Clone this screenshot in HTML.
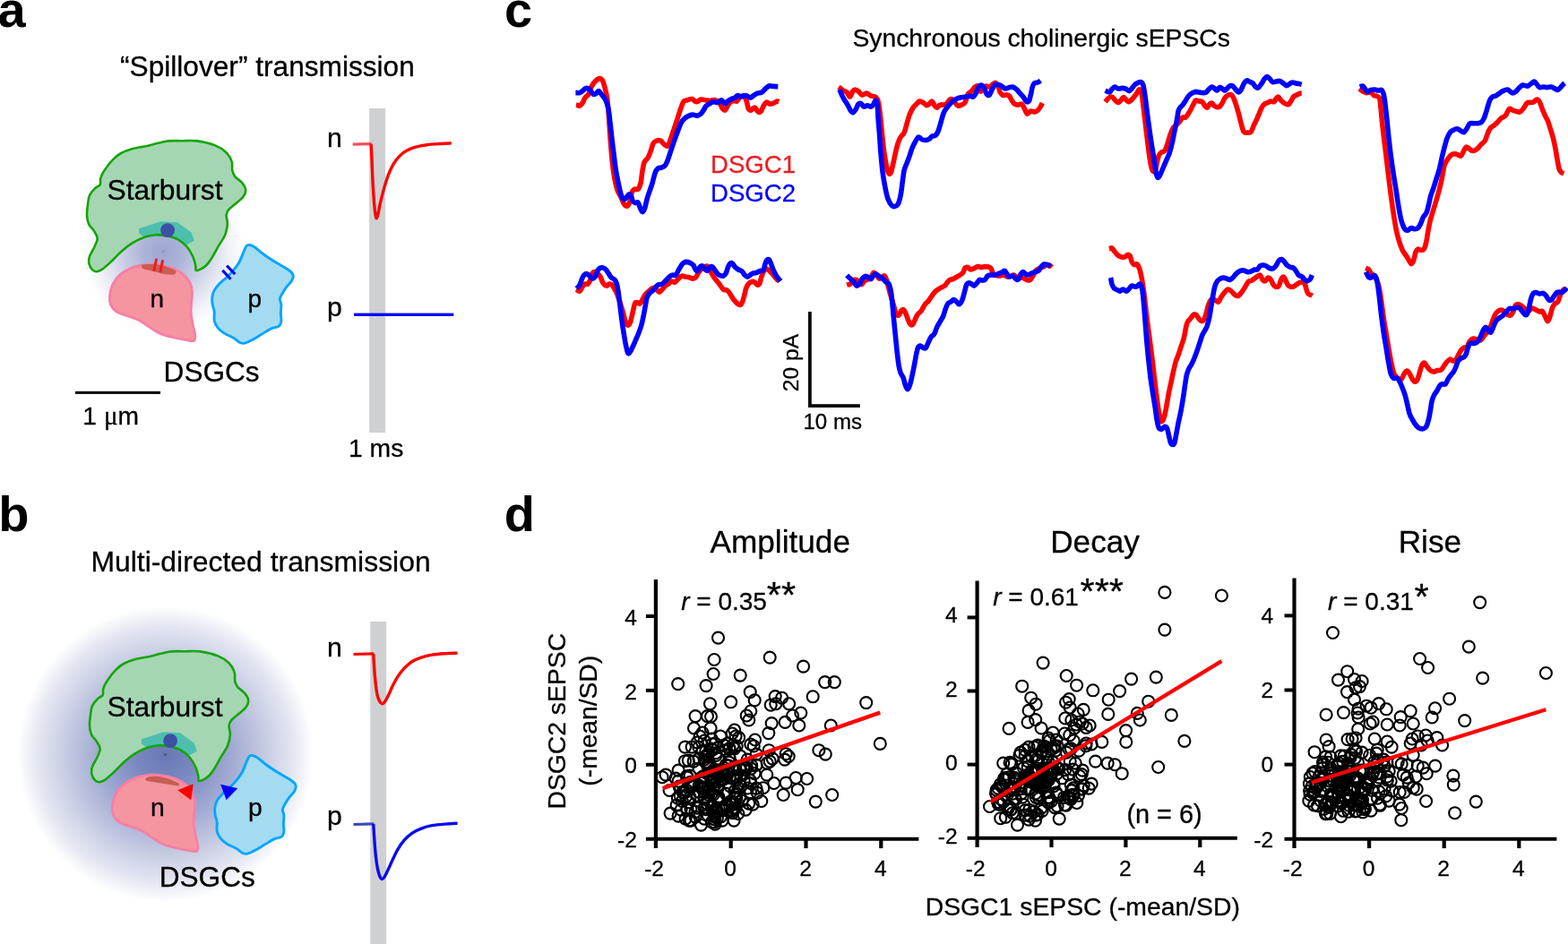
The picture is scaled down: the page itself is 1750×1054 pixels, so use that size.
<!DOCTYPE html>
<html lang="en"><head><meta charset="utf-8"><title>Figure</title>
<style>
html,body{margin:0;padding:0;background:#fff;}
body{width:1750px;height:1054px;overflow:hidden;}
svg{display:block;}
svg text{font-family:"Liberation Sans",sans-serif;stroke-width:0.3px;stroke-linejoin:round;}
</style></head><body>
<svg width="1750" height="1054" viewBox="0 0 1750 1054">
<rect width="1750" height="1054" fill="#fff"/>
<defs>
<radialGradient id="gA" cx="182" cy="281" r="90" gradientUnits="userSpaceOnUse">
<stop offset="0" stop-color="#9ea6d1"/><stop offset="0.25" stop-color="#adb4d8"/><stop offset="0.55" stop-color="#d0d4e8"/><stop offset="0.8" stop-color="#eef0f7"/><stop offset="1" stop-color="#ffffff"/>
</radialGradient>
<radialGradient id="gB" cx="184.6" cy="842.0" r="165" gradientUnits="userSpaceOnUse">
<stop offset="0" stop-color="#6878b6"/><stop offset="0.2" stop-color="#7a88c0"/><stop offset="0.45" stop-color="#a1aad2"/><stop offset="0.7" stop-color="#cacfe5"/><stop offset="0.87" stop-color="#e4e7f2"/><stop offset="1" stop-color="#ffffff"/>
</radialGradient>
</defs>
<text x="-2.6" y="29.9" font-size="56" text-anchor="start" fill="#000" stroke="#000" font-weight="bold" style="stroke-width:0">a</text>
<text x="-1.8" y="593.1" font-size="56" text-anchor="start" fill="#000" stroke="#000" font-weight="bold" style="stroke-width:0">b</text>
<text x="563" y="29.6" font-size="56" text-anchor="start" fill="#000" stroke="#000" font-weight="bold" style="stroke-width:0">c</text>
<text x="562.7" y="593.1" font-size="56" text-anchor="start" fill="#000" stroke="#000" font-weight="bold" style="stroke-width:0">d</text>
<circle cx="182" cy="281" r="90" fill="url(#gA)"/>
<path d="M188.1 157.4C192.8 157 198.8 157.2 204.2 157.2C209.5 157.2 214.2 156.6 220.2 157.4C226.2 158.3 234.9 160.3 240.2 162.4C245.5 164.5 249.1 167.1 252.2 170C255.3 173 257.5 176.7 258.6 180.1C259.8 183.4 258.6 187.2 259.2 190.1C259.8 192.9 260.4 194.7 262.2 197.1C264.1 199.4 268.2 201.6 270.2 204.1C272.2 206.6 274.1 209.4 274.2 212.1C274.4 214.8 273.2 217.4 271.2 220.1C269.2 222.8 264.9 225.8 262.2 228.1C259.6 230.4 256.8 232.1 255.2 234.1C253.6 236.1 252.9 237.5 252.6 240.1C252.4 242.8 254.1 246.5 253.8 250.1C253.6 253.8 252.8 258.1 251.2 262.2C249.6 266.2 246.7 269.8 244.2 274.2C241.7 278.5 238.5 284.5 236.2 288.2C233.9 291.9 232.4 294.1 230.2 296.2C228 298.3 225.1 299.9 223.2 300.8C221.3 301.7 219.6 302.6 218.8 301.8C217.9 301 218.8 298.8 218.2 296.2C217.6 293.6 216.8 289.7 215.2 286.2C213.5 282.7 211 278.3 208.2 275.2C205.3 272 201.5 269.1 198.2 267.2C194.8 265.3 192.2 264.6 188.1 263.8C184.1 262.9 178.5 262 174.1 262.2C169.8 262.3 166.5 263.1 162.1 264.6C157.8 266.1 152.4 268.6 148.1 271.2C143.8 273.8 139.8 277 136.1 280.2C132.4 283.3 129.4 287 126.1 290.2C122.7 293.4 119.1 297 116.1 299.2C113.1 301.4 110.2 302.9 108.1 303.2C105.9 303.5 104.5 302.7 103 301.2C101.6 299.7 99.9 296.7 99.4 294.2C98.9 291.7 99.1 289.2 100 286.2C101 283.2 103.6 279.5 105.1 276.2C106.5 272.8 108.7 269.2 108.7 266.2C108.7 263.2 106.7 260.8 105.1 258.1C103.4 255.5 100.4 253.1 99 250.1C97.7 247.1 97.2 243.8 97 240.1C96.9 236.5 97.5 231.8 98 228.1C98.5 224.4 98.7 221.1 100 218.1C101.4 215.1 104.1 212.1 106.1 210.1C108 208.1 110.6 208.1 111.7 206.1C112.7 204.1 111.4 201.1 112.5 198.1C113.5 195.1 115.8 191.4 118.1 188.1C120.3 184.7 123.2 180.9 126.1 178.1C128.9 175.2 131.4 173 135.1 171C138.8 169 143.3 167.4 148.1 166C152.9 164.7 159.4 164.1 164.1 163C168.8 162 172.1 160.8 176.1 159.8C180.1 158.9 183.5 157.9 188.1 157.4Z" fill="#a5d6b3"/>
<clipPath id="csa"><path d="M188.1 157.4C192.8 157 198.8 157.2 204.2 157.2C209.5 157.2 214.2 156.6 220.2 157.4C226.2 158.3 234.9 160.3 240.2 162.4C245.5 164.5 249.1 167.1 252.2 170C255.3 173 257.5 176.7 258.6 180.1C259.8 183.4 258.6 187.2 259.2 190.1C259.8 192.9 260.4 194.7 262.2 197.1C264.1 199.4 268.2 201.6 270.2 204.1C272.2 206.6 274.1 209.4 274.2 212.1C274.4 214.8 273.2 217.4 271.2 220.1C269.2 222.8 264.9 225.8 262.2 228.1C259.6 230.4 256.8 232.1 255.2 234.1C253.6 236.1 252.9 237.5 252.6 240.1C252.4 242.8 254.1 246.5 253.8 250.1C253.6 253.8 252.8 258.1 251.2 262.2C249.6 266.2 246.7 269.8 244.2 274.2C241.7 278.5 238.5 284.5 236.2 288.2C233.9 291.9 232.4 294.1 230.2 296.2C228 298.3 225.1 299.9 223.2 300.8C221.3 301.7 219.6 302.6 218.8 301.8C217.9 301 218.8 298.8 218.2 296.2C217.6 293.6 216.8 289.7 215.2 286.2C213.5 282.7 211 278.3 208.2 275.2C205.3 272 201.5 269.1 198.2 267.2C194.8 265.3 192.2 264.6 188.1 263.8C184.1 262.9 178.5 262 174.1 262.2C169.8 262.3 166.5 263.1 162.1 264.6C157.8 266.1 152.4 268.6 148.1 271.2C143.8 273.8 139.8 277 136.1 280.2C132.4 283.3 129.4 287 126.1 290.2C122.7 293.4 119.1 297 116.1 299.2C113.1 301.4 110.2 302.9 108.1 303.2C105.9 303.5 104.5 302.7 103 301.2C101.6 299.7 99.9 296.7 99.4 294.2C98.9 291.7 99.1 289.2 100 286.2C101 283.2 103.6 279.5 105.1 276.2C106.5 272.8 108.7 269.2 108.7 266.2C108.7 263.2 106.7 260.8 105.1 258.1C103.4 255.5 100.4 253.1 99 250.1C97.7 247.1 97.2 243.8 97 240.1C96.9 236.5 97.5 231.8 98 228.1C98.5 224.4 98.7 221.1 100 218.1C101.4 215.1 104.1 212.1 106.1 210.1C108 208.1 110.6 208.1 111.7 206.1C112.7 204.1 111.4 201.1 112.5 198.1C113.5 195.1 115.8 191.4 118.1 188.1C120.3 184.7 123.2 180.9 126.1 178.1C128.9 175.2 131.4 173 135.1 171C138.8 169 143.3 167.4 148.1 166C152.9 164.7 159.4 164.1 164.1 163C168.8 162 172.1 160.8 176.1 159.8C180.1 158.9 183.5 157.9 188.1 157.4Z"/></clipPath>
<g clip-path="url(#csa)"><polygon points="155,255.2 179.6,247.2 198,248.2 213.6,259.4 216.8,268.6 209.2,273 200,276 185,272 170,268 159.2,263.6 155,260.6" fill="#4ebfad"/></g>
<path d="M188.1 157.4C192.8 157 198.8 157.2 204.2 157.2C209.5 157.2 214.2 156.6 220.2 157.4C226.2 158.3 234.9 160.3 240.2 162.4C245.5 164.5 249.1 167.1 252.2 170C255.3 173 257.5 176.7 258.6 180.1C259.8 183.4 258.6 187.2 259.2 190.1C259.8 192.9 260.4 194.7 262.2 197.1C264.1 199.4 268.2 201.6 270.2 204.1C272.2 206.6 274.1 209.4 274.2 212.1C274.4 214.8 273.2 217.4 271.2 220.1C269.2 222.8 264.9 225.8 262.2 228.1C259.6 230.4 256.8 232.1 255.2 234.1C253.6 236.1 252.9 237.5 252.6 240.1C252.4 242.8 254.1 246.5 253.8 250.1C253.6 253.8 252.8 258.1 251.2 262.2C249.6 266.2 246.7 269.8 244.2 274.2C241.7 278.5 238.5 284.5 236.2 288.2C233.9 291.9 232.4 294.1 230.2 296.2C228 298.3 225.1 299.9 223.2 300.8C221.3 301.7 219.6 302.6 218.8 301.8C217.9 301 218.8 298.8 218.2 296.2C217.6 293.6 216.8 289.7 215.2 286.2C213.5 282.7 211 278.3 208.2 275.2C205.3 272 201.5 269.1 198.2 267.2C194.8 265.3 192.2 264.6 188.1 263.8C184.1 262.9 178.5 262 174.1 262.2C169.8 262.3 166.5 263.1 162.1 264.6C157.8 266.1 152.4 268.6 148.1 271.2C143.8 273.8 139.8 277 136.1 280.2C132.4 283.3 129.4 287 126.1 290.2C122.7 293.4 119.1 297 116.1 299.2C113.1 301.4 110.2 302.9 108.1 303.2C105.9 303.5 104.5 302.7 103 301.2C101.6 299.7 99.9 296.7 99.4 294.2C98.9 291.7 99.1 289.2 100 286.2C101 283.2 103.6 279.5 105.1 276.2C106.5 272.8 108.7 269.2 108.7 266.2C108.7 263.2 106.7 260.8 105.1 258.1C103.4 255.5 100.4 253.1 99 250.1C97.7 247.1 97.2 243.8 97 240.1C96.9 236.5 97.5 231.8 98 228.1C98.5 224.4 98.7 221.1 100 218.1C101.4 215.1 104.1 212.1 106.1 210.1C108 208.1 110.6 208.1 111.7 206.1C112.7 204.1 111.4 201.1 112.5 198.1C113.5 195.1 115.8 191.4 118.1 188.1C120.3 184.7 123.2 180.9 126.1 178.1C128.9 175.2 131.4 173 135.1 171C138.8 169 143.3 167.4 148.1 166C152.9 164.7 159.4 164.1 164.1 163C168.8 162 172.1 160.8 176.1 159.8C180.1 158.9 183.5 157.9 188.1 157.4Z" fill="none" stroke="#14a505" stroke-width="2.6" stroke-linejoin="round"/>
<circle cx="187.1" cy="257.1" r="7.9" fill="#3c50a5"/>
<path d="M164.1 295.1C160.2 295.3 155.7 296.3 152.5 297.1C149.3 297.8 148.3 298 145.1 299.7C141.9 301.3 136.8 304 133.5 307.1C130.2 310.1 127.3 314.2 125.5 318.1C123.6 321.9 122.8 326.4 122.5 330.1C122.1 333.8 122.3 337.2 123.5 340.1C124.6 343 126.4 345.7 129.3 347.7C132.1 349.7 136.5 350.7 140.7 352.3C144.9 353.9 150 355 154.3 357.1C158.6 359.2 162.4 362.4 166.3 364.9C170.3 367.4 173.8 370.2 178.1 372.1C182.4 374.1 187.1 375.3 192.2 376.5C197.2 377.8 204.1 379.1 208.2 379.7C212.2 380.4 215 381.3 216.6 380.3C218.2 379.4 218 377.2 217.8 374.1C217.5 371.1 215.9 366.1 215.2 362.1C214.4 358.1 213.4 354.5 213.2 350.1C212.9 345.8 213.5 340.1 213.8 336.1C214 332.1 214.8 329.4 214.6 326.1C214.3 322.7 213.6 319.1 212.2 316.1C210.8 313.1 208.5 310.4 206.2 308.1C203.8 305.7 201.2 303.7 198.2 302.1C195.2 300.4 191.8 299.1 188.1 298.1C184.5 297 180.1 296.2 176.1 295.7C172.1 295.2 168.1 294.8 164.1 295.1Z" fill="#f4959f" stroke="#f87fa6" stroke-width="2.8" stroke-linejoin="round"/>
<path d="M278.2 273.4C279.8 273.6 281.6 274.3 284.3 276C286.9 277.8 290.6 281.4 294.3 284C297.9 286.7 302.3 289.5 306.3 292C310.3 294.6 315.1 297.1 318.3 299.1C321.5 301.1 323.8 302.6 325.3 304.1C326.8 305.6 327.3 306.4 327.3 308.1C327.3 309.7 326.6 311.9 325.3 314.1C324 316.2 321.1 318.6 319.3 321.1C317.5 323.6 315.5 326.9 314.3 329.1C313.1 331.3 312.4 332.3 312.3 334.1C312.2 335.9 313.7 337.4 313.9 340.1C314.1 342.8 313.3 347.1 313.3 350.1C313.3 353.1 314.2 355.8 313.9 358.1C313.6 360.5 313.2 362.6 311.3 364.1C309.4 365.6 305.4 365.6 302.3 367.1C299.1 368.6 295.6 371.1 292.3 373.1C288.9 375.1 285.4 377.5 282.3 379.1C279.1 380.8 275.7 382.7 273.2 383.2C270.7 383.7 269.4 383.2 267.2 382.2C265.1 381.1 263.1 378.8 260.2 377.1C257.4 375.5 253.1 374 250.2 372.1C247.4 370.3 245 368.5 243.2 366.1C241.4 363.8 239.9 361.1 239.2 358.1C238.5 355.1 239.5 351.1 239.2 348.1C238.9 345.1 237.6 342.8 237.2 340.1C236.8 337.4 236.5 334.8 236.8 332.1C237.1 329.4 237.8 326.7 239.2 324.1C240.6 321.5 243 318.8 245.2 316.5C247.4 314.1 250.1 312.5 252.6 310.1C255.2 307.6 258.3 304.5 260.6 301.7C263 298.8 265 296.3 266.8 293C268.7 289.8 270.3 285 271.6 282C273 279 273.7 276.5 274.8 275C275.9 273.6 276.7 273.3 278.2 273.4Z" fill="#a4dbf0" stroke="#05a5ff" stroke-width="2.9" stroke-linejoin="round"/>
<path d="M158.6 295.6C160.4 295.1 166.2 295 169 295C171.8 295 172.7 295.2 175.4 295.6C178.1 296 181.6 296.5 185 297.6C188.4 298.7 194 300.9 195.8 302C197.6 303.1 196.2 303.6 196 304.4C195.8 305.2 196.4 306.3 194.6 306.6C192.8 306.9 188.2 306.6 185 306.2C181.8 305.8 178.3 304.7 175.4 304C172.5 303.3 170.1 302.7 167.4 302C164.7 301.3 160.9 300.7 159.4 300C157.9 299.3 158.3 298.7 158.2 298C158.1 297.3 156.8 296.1 158.6 295.6Z" fill="#c75e54"/>
<circle cx="182.4" cy="280.8" r="1" fill="#8e8e9e"/>
<line x1="174.7" y1="288.7" x2="171.7" y2="302.7" stroke="#f01a1e" stroke-width="3"/>
<line x1="181.7" y1="290.3" x2="178.7" y2="304.3" stroke="#f01a1e" stroke-width="3"/>
<line x1="253.1" y1="296.7" x2="262.3" y2="306.1" stroke="#0606f6" stroke-width="3.1"/>
<line x1="248.3" y1="301.9" x2="257.5" y2="311.7" stroke="#0606f6" stroke-width="3.1"/>
<text x="134" y="84.8" font-size="31.65" text-anchor="start" fill="#000" stroke="#000" >“Spillover” transmission</text>
<text x="119.5" y="222.5" font-size="31.8" text-anchor="start" fill="#000" stroke="#000" >Starburst</text>
<text x="167.6" y="342.7" font-size="28" text-anchor="start" fill="#000" stroke="#000" >n</text>
<text x="276.4" y="342.7" font-size="28" text-anchor="start" fill="#000" stroke="#000" >p</text>
<text x="182.6" y="425.8" font-size="31.6" text-anchor="start" fill="#000" stroke="#000" >DSGCs</text>
<rect x="84.1" y="436.9" width="94.9" height="3" fill="#000"/>
<text y="474.3" font-size="28.2" stroke="#000"><tspan x="92.3">1</tspan><tspan x="108"> </tspan><tspan x="116" font-family="Liberation Serif, serif" font-size="29">μ</tspan><tspan x="131.4">m</tspan></text>
<text x="389" y="509.6" font-size="28.3" text-anchor="start" fill="#000" stroke="#000" >1 ms</text>
<rect x="412.1" y="121" width="18" height="362" fill="#cfd0d2"/>
<text x="365" y="164.1" font-size="30.2" text-anchor="start" fill="#000" stroke="#000" >n</text>
<text x="365" y="352.8" font-size="30.2" text-anchor="start" fill="#000" stroke="#000" >p</text>
<path d="M393.7 161.1L414.5 160.7" stroke="#f0505f" stroke-width="3.2" fill="none"/>
<path d="M414.1 160.7C414.3 163.9 414.8 172.8 415.1 180.1C415.4 187.3 415.7 196.1 416.1 204.1C416.5 212.1 417.2 222.1 417.7 228.1C418.2 234.2 418.7 237.6 419.1 240.2C419.5 242.8 419.7 243.8 420.1 243.8C420.5 243.8 421 242.8 421.7 240.2C422.4 237.6 423 232.8 424.1 228.1C425.2 223.5 426.6 217.5 428.1 212.1C429.6 206.8 431.3 200.9 433.1 196.1C434.9 191.3 436.9 186.8 439.1 183.1C441.3 179.4 443.6 176.6 446.1 174.1C448.6 171.6 451.1 169.7 454.1 168.1C457.1 166.4 460.5 165.1 464.1 164.1C467.8 163 471.8 162.3 476.2 161.7C480.5 161.1 485.6 160.8 490.2 160.5C494.8 160.2 501.5 160 503.8 159.9" stroke="#ff0000" stroke-width="3.4" fill="none" stroke-linejoin="round"/>
<rect x="395" y="349.6" width="111.3" height="3.4" fill="#0a0af5"/>
<circle cx="184.6" cy="842.0" r="165" fill="url(#gB)"/>
<path d="M191.1 727.4C195.8 727 201.8 727.2 207.2 727.2C212.5 727.2 217.2 726.6 223.2 727.4C229.2 728.3 237.9 730.3 243.2 732.4C248.5 734.5 252.1 737.1 255.2 740C258.3 743 260.5 746.7 261.6 750.1C262.8 753.4 261.6 757.2 262.2 760.1C262.8 762.9 263.4 764.7 265.2 767.1C267.1 769.4 271.2 771.6 273.2 774.1C275.2 776.6 277.1 779.4 277.2 782.1C277.4 784.8 276.2 787.4 274.2 790.1C272.2 792.8 267.9 795.8 265.2 798.1C262.6 800.4 259.8 802.1 258.2 804.1C256.6 806.1 255.9 807.5 255.6 810.1C255.4 812.8 257.1 816.5 256.8 820.1C256.6 823.8 255.8 828.1 254.2 832.2C252.6 836.2 249.7 839.8 247.2 844.2C244.7 848.5 241.5 854.5 239.2 858.2C236.9 861.9 235.4 864.1 233.2 866.2C231 868.3 228.1 869.9 226.2 870.8C224.3 871.7 222.6 872.6 221.8 871.8C220.9 871 221.8 868.8 221.2 866.2C220.6 863.6 219.8 859.7 218.2 856.2C216.5 852.7 214 848.3 211.2 845.2C208.3 842 204.5 839.1 201.2 837.2C197.8 835.3 195.2 834.6 191.1 833.8C187.1 832.9 181.5 832 177.1 832.2C172.8 832.3 169.5 833.1 165.1 834.6C160.8 836.1 155.4 838.6 151.1 841.2C146.8 843.8 142.8 847 139.1 850.2C135.4 853.3 132.4 857 129.1 860.2C125.7 863.4 122.1 867 119.1 869.2C116.1 871.4 113.2 872.9 111.1 873.2C108.9 873.5 107.5 872.7 106 871.2C104.6 869.7 102.9 866.7 102.4 864.2C101.9 861.7 102.1 859.2 103 856.2C104 853.2 106.6 849.5 108.1 846.2C109.5 842.8 111.7 839.2 111.7 836.2C111.7 833.2 109.7 830.8 108.1 828.1C106.4 825.5 103.4 823.1 102 820.1C100.7 817.1 100.2 813.8 100 810.1C99.9 806.5 100.5 801.8 101 798.1C101.5 794.4 101.7 791.1 103 788.1C104.4 785.1 107.1 782.1 109.1 780.1C111 778.1 113.6 778.1 114.7 776.1C115.7 774.1 114.4 771.1 115.5 768.1C116.5 765.1 118.8 761.4 121.1 758.1C123.3 754.7 126.2 750.9 129.1 748.1C131.9 745.2 134.4 743 138.1 741C141.8 739 146.3 737.4 151.1 736C155.9 734.7 162.4 734.1 167.1 733C171.8 732 175.1 730.8 179.1 729.8C183.1 728.9 186.5 727.9 191.1 727.4Z" fill="#a5d6b3"/>
<clipPath id="csb"><path d="M191.1 727.4C195.8 727 201.8 727.2 207.2 727.2C212.5 727.2 217.2 726.6 223.2 727.4C229.2 728.3 237.9 730.3 243.2 732.4C248.5 734.5 252.1 737.1 255.2 740C258.3 743 260.5 746.7 261.6 750.1C262.8 753.4 261.6 757.2 262.2 760.1C262.8 762.9 263.4 764.7 265.2 767.1C267.1 769.4 271.2 771.6 273.2 774.1C275.2 776.6 277.1 779.4 277.2 782.1C277.4 784.8 276.2 787.4 274.2 790.1C272.2 792.8 267.9 795.8 265.2 798.1C262.6 800.4 259.8 802.1 258.2 804.1C256.6 806.1 255.9 807.5 255.6 810.1C255.4 812.8 257.1 816.5 256.8 820.1C256.6 823.8 255.8 828.1 254.2 832.2C252.6 836.2 249.7 839.8 247.2 844.2C244.7 848.5 241.5 854.5 239.2 858.2C236.9 861.9 235.4 864.1 233.2 866.2C231 868.3 228.1 869.9 226.2 870.8C224.3 871.7 222.6 872.6 221.8 871.8C220.9 871 221.8 868.8 221.2 866.2C220.6 863.6 219.8 859.7 218.2 856.2C216.5 852.7 214 848.3 211.2 845.2C208.3 842 204.5 839.1 201.2 837.2C197.8 835.3 195.2 834.6 191.1 833.8C187.1 832.9 181.5 832 177.1 832.2C172.8 832.3 169.5 833.1 165.1 834.6C160.8 836.1 155.4 838.6 151.1 841.2C146.8 843.8 142.8 847 139.1 850.2C135.4 853.3 132.4 857 129.1 860.2C125.7 863.4 122.1 867 119.1 869.2C116.1 871.4 113.2 872.9 111.1 873.2C108.9 873.5 107.5 872.7 106 871.2C104.6 869.7 102.9 866.7 102.4 864.2C101.9 861.7 102.1 859.2 103 856.2C104 853.2 106.6 849.5 108.1 846.2C109.5 842.8 111.7 839.2 111.7 836.2C111.7 833.2 109.7 830.8 108.1 828.1C106.4 825.5 103.4 823.1 102 820.1C100.7 817.1 100.2 813.8 100 810.1C99.9 806.5 100.5 801.8 101 798.1C101.5 794.4 101.7 791.1 103 788.1C104.4 785.1 107.1 782.1 109.1 780.1C111 778.1 113.6 778.1 114.7 776.1C115.7 774.1 114.4 771.1 115.5 768.1C116.5 765.1 118.8 761.4 121.1 758.1C123.3 754.7 126.2 750.9 129.1 748.1C131.9 745.2 134.4 743 138.1 741C141.8 739 146.3 737.4 151.1 736C155.9 734.7 162.4 734.1 167.1 733C171.8 732 175.1 730.8 179.1 729.8C183.1 728.9 186.5 727.9 191.1 727.4Z"/></clipPath>
<g clip-path="url(#csb)"><polygon points="158,825.2 182.6,817.2 201,818.2 216.6,829.4 219.8,838.6 212.2,843 203,846 188,842 173,838 162.2,833.6 158,830.6" fill="#4ebfad"/></g>
<path d="M191.1 727.4C195.8 727 201.8 727.2 207.2 727.2C212.5 727.2 217.2 726.6 223.2 727.4C229.2 728.3 237.9 730.3 243.2 732.4C248.5 734.5 252.1 737.1 255.2 740C258.3 743 260.5 746.7 261.6 750.1C262.8 753.4 261.6 757.2 262.2 760.1C262.8 762.9 263.4 764.7 265.2 767.1C267.1 769.4 271.2 771.6 273.2 774.1C275.2 776.6 277.1 779.4 277.2 782.1C277.4 784.8 276.2 787.4 274.2 790.1C272.2 792.8 267.9 795.8 265.2 798.1C262.6 800.4 259.8 802.1 258.2 804.1C256.6 806.1 255.9 807.5 255.6 810.1C255.4 812.8 257.1 816.5 256.8 820.1C256.6 823.8 255.8 828.1 254.2 832.2C252.6 836.2 249.7 839.8 247.2 844.2C244.7 848.5 241.5 854.5 239.2 858.2C236.9 861.9 235.4 864.1 233.2 866.2C231 868.3 228.1 869.9 226.2 870.8C224.3 871.7 222.6 872.6 221.8 871.8C220.9 871 221.8 868.8 221.2 866.2C220.6 863.6 219.8 859.7 218.2 856.2C216.5 852.7 214 848.3 211.2 845.2C208.3 842 204.5 839.1 201.2 837.2C197.8 835.3 195.2 834.6 191.1 833.8C187.1 832.9 181.5 832 177.1 832.2C172.8 832.3 169.5 833.1 165.1 834.6C160.8 836.1 155.4 838.6 151.1 841.2C146.8 843.8 142.8 847 139.1 850.2C135.4 853.3 132.4 857 129.1 860.2C125.7 863.4 122.1 867 119.1 869.2C116.1 871.4 113.2 872.9 111.1 873.2C108.9 873.5 107.5 872.7 106 871.2C104.6 869.7 102.9 866.7 102.4 864.2C101.9 861.7 102.1 859.2 103 856.2C104 853.2 106.6 849.5 108.1 846.2C109.5 842.8 111.7 839.2 111.7 836.2C111.7 833.2 109.7 830.8 108.1 828.1C106.4 825.5 103.4 823.1 102 820.1C100.7 817.1 100.2 813.8 100 810.1C99.9 806.5 100.5 801.8 101 798.1C101.5 794.4 101.7 791.1 103 788.1C104.4 785.1 107.1 782.1 109.1 780.1C111 778.1 113.6 778.1 114.7 776.1C115.7 774.1 114.4 771.1 115.5 768.1C116.5 765.1 118.8 761.4 121.1 758.1C123.3 754.7 126.2 750.9 129.1 748.1C131.9 745.2 134.4 743 138.1 741C141.8 739 146.3 737.4 151.1 736C155.9 734.7 162.4 734.1 167.1 733C171.8 732 175.1 730.8 179.1 729.8C183.1 728.9 186.5 727.9 191.1 727.4Z" fill="none" stroke="#14a505" stroke-width="2.6" stroke-linejoin="round"/>
<circle cx="190.1" cy="827.1" r="7.9" fill="#3c50a5"/>
<path d="M167.1 865.1C163.2 865.3 158.7 866.3 155.5 867.1C152.3 867.8 151.3 868 148.1 869.7C144.9 871.3 139.8 874 136.5 877.1C133.2 880.1 130.3 884.2 128.5 888.1C126.6 891.9 125.8 896.4 125.5 900.1C125.1 903.8 125.3 907.2 126.5 910.1C127.6 913 129.4 915.7 132.3 917.7C135.1 919.7 139.5 920.7 143.7 922.3C147.9 923.9 153 925 157.3 927.1C161.6 929.2 165.4 932.4 169.3 934.9C173.3 937.4 176.8 940.2 181.1 942.1C185.4 944.1 190.1 945.3 195.2 946.5C200.2 947.8 207.1 949.1 211.2 949.7C215.2 950.4 218 951.3 219.6 950.3C221.2 949.4 221 947.2 220.8 944.1C220.5 941.1 218.9 936.1 218.2 932.1C217.4 928.1 216.4 924.5 216.2 920.1C215.9 915.8 216.5 910.1 216.8 906.1C217 902.1 217.8 899.4 217.6 896.1C217.3 892.7 216.6 889.1 215.2 886.1C213.8 883.1 211.5 880.4 209.2 878.1C206.8 875.7 204.2 873.7 201.2 872.1C198.2 870.4 194.8 869.1 191.1 868.1C187.5 867 183.1 866.2 179.1 865.7C175.1 865.2 171.1 864.8 167.1 865.1Z" fill="#f4959f" stroke="#f87fa6" stroke-width="2.8" stroke-linejoin="round"/>
<path d="M281.2 843.4C282.8 843.6 284.6 844.3 287.3 846C289.9 847.8 293.6 851.4 297.3 854C300.9 856.7 305.3 859.5 309.3 862C313.3 864.6 318.1 867.1 321.3 869.1C324.5 871.1 326.8 872.6 328.3 874.1C329.8 875.6 330.3 876.4 330.3 878.1C330.3 879.7 329.6 881.9 328.3 884.1C327 886.2 324.1 888.6 322.3 891.1C320.5 893.6 318.5 896.9 317.3 899.1C316.1 901.3 315.4 902.3 315.3 904.1C315.2 905.9 316.7 907.4 316.9 910.1C317.1 912.8 316.3 917.1 316.3 920.1C316.3 923.1 317.2 925.8 316.9 928.1C316.6 930.5 316.2 932.6 314.3 934.1C312.4 935.6 308.4 935.6 305.3 937.1C302.1 938.6 298.6 941.1 295.3 943.1C291.9 945.1 288.4 947.5 285.3 949.1C282.1 950.8 278.7 952.7 276.2 953.2C273.7 953.7 272.4 953.2 270.2 952.2C268.1 951.1 266.1 948.8 263.2 947.1C260.4 945.5 256.1 944 253.2 942.1C250.4 940.3 248 938.5 246.2 936.1C244.4 933.8 242.9 931.1 242.2 928.1C241.5 925.1 242.5 921.1 242.2 918.1C241.9 915.1 240.6 912.8 240.2 910.1C239.8 907.4 239.5 904.8 239.8 902.1C240.1 899.4 240.8 896.7 242.2 894.1C243.6 891.5 246 888.8 248.2 886.5C250.4 884.1 253.1 882.5 255.6 880.1C258.2 877.6 261.3 874.5 263.6 871.7C266 868.8 268 866.3 269.8 863C271.7 859.8 273.3 855 274.6 852C276 849 276.7 846.5 277.8 845C278.9 843.6 279.7 843.3 281.2 843.4Z" fill="#a4dbf0" stroke="#05a5ff" stroke-width="2.9" stroke-linejoin="round"/>
<circle cx="184.5" cy="842.4" r="1.7" fill="#565a78"/>
<path d="M162.3 869.3C165.5 865.5 182 864.6 199.5 874.5C200.4 876 199.8 877.4 198.6 877.5L164.6 872C162.6 871.6 161.8 870.4 162.3 869.3Z" fill="#c55d50"/>
<polygon points="198.2,882.2 215.8,875.2 213.2,893.2" fill="#ff0000"/>
<polygon points="246.2,875.8 265.2,880.2 252.6,893.2" fill="#0000ff"/>
<text x="101.4" y="637.7" font-size="31.9" text-anchor="start" fill="#000" stroke="#000" >Multi-directed transmission</text>
<text x="119.5" y="800.1" font-size="31.8" text-anchor="start" fill="#000" stroke="#000" >Starburst</text>
<text x="168" y="911.1" font-size="28.3" text-anchor="start" fill="#000" stroke="#000" >n</text>
<text x="277" y="911.1" font-size="28.3" text-anchor="start" fill="#000" stroke="#000" >p</text>
<text x="177.7" y="990.2" font-size="31.6" text-anchor="start" fill="#000" stroke="#000" >DSGCs</text>
<rect x="413.3" y="694" width="17.8" height="360" fill="#cfd0d2"/>
<text x="365" y="732.5" font-size="30.2" text-anchor="start" fill="#000" stroke="#000" >n</text>
<text x="365" y="921" font-size="30.2" text-anchor="start" fill="#000" stroke="#000" >p</text>
<path d="M394.5 730.5L417.1 729.9" stroke="#ff0000" stroke-width="3.2" fill="none"/>
<path d="M416.7 729.9C416.9 732.6 417.3 740.7 417.7 746.1C418.1 751.5 418.5 757.1 419.1 762.1C419.7 767.1 420.3 772.6 421.1 776.1C421.9 779.6 422.8 781.5 423.7 783.1C424.6 784.7 425.6 785.6 426.5 785.7C427.4 785.9 428 785.6 429.1 784.1C430.2 782.7 431.6 780.1 433.1 777.1C434.6 774.1 436.3 769.8 438.1 766.1C439.9 762.4 441.9 758.4 444.1 755.1C446.3 751.8 448.5 748.9 451.1 746.1C453.8 743.3 457 740.5 460.1 738.5C463.3 736.5 466.5 735.3 470.1 734.1C473.8 732.8 477.8 731.8 482.2 731.1C486.5 730.3 491.4 730 496.2 729.7C500.9 729.3 508.2 729.2 510.6 729.1" stroke="#ff0000" stroke-width="3.4" fill="none" stroke-linejoin="round"/>
<path d="M394.5 920.5L417.1 919.9" stroke="#3a4cb0" stroke-width="3.2" fill="none"/>
<path d="M416.7 919.9C416.9 922.4 417.3 929.6 417.7 935.1C418.1 940.6 418.5 947.6 419.1 953.1C419.7 958.6 420.3 964 421.1 968.1C421.9 972.3 422.8 975.9 423.7 978.2C424.6 980.4 425.6 981.4 426.5 981.6C427.4 981.7 428 980.9 429.1 979.2C430.2 977.4 431.6 974.3 433.1 971.1C434.6 968 436.3 964 438.1 960.1C439.9 956.3 441.9 951.8 444.1 948.1C446.3 944.4 448.5 941.1 451.1 938.1C453.8 935.1 457 932.3 460.1 930.1C463.3 927.9 466.5 926.5 470.1 925.1C473.8 923.7 477.8 922.5 482.2 921.7C486.5 920.9 491.4 920.5 496.2 920.1C500.9 919.7 508.2 919.4 510.6 919.3" stroke="#0a0af0" stroke-width="3.4" fill="none" stroke-linejoin="round"/>
<text x="951.4" y="52.4" font-size="28.3" text-anchor="start" fill="#000" stroke="#000" >Synchronous cholinergic sEPSCs</text>
<path d="M643 117.1C643.7 117.2 645.9 118.4 647 118.1C648.2 117.7 649 116.6 650 115.1C651 113.6 651.9 110.7 653 109.1C654.2 107.4 655.9 107.1 657 105.1C658.2 103 658.9 99.4 660 97C661.2 94.7 662.5 92.6 664.1 91C665.6 89.5 667.7 87.8 669.1 87.6C670.5 87.5 671.5 88.3 672.5 90C673.5 91.8 674.2 94.7 675.1 98C675.9 101.4 676.9 104.7 677.7 110.1C678.4 115.4 678.9 122.7 679.5 130.1C680 137.4 680.5 146.1 681.1 154.1C681.7 162.1 682.3 170.8 683.1 178.1C683.8 185.5 684.7 192.5 685.7 198.2C686.7 203.8 687.8 208.5 689.1 212.2C690.3 215.8 691.9 217.7 693.1 220.2C694.3 222.7 695 225.5 696.1 227.2C697.2 228.9 698.6 230.4 699.7 230.2C700.8 230 701.6 228.7 702.5 226.2C703.4 223.7 704.2 217.7 705.1 215.2C706 212.7 706.9 211.8 708.1 211.2C709.3 210.5 710.9 212.3 712.1 211.2C713.3 210 714.3 207.7 715.1 204.2C715.9 200.7 716.4 194 717.1 190.1C717.8 186.3 718.1 183.5 719.1 181.1C720.1 178.8 721.9 178.1 723.1 176.1C724.3 174.1 725.1 171.8 726.1 169.1C727.1 166.5 728 162.1 729.1 160.1C730.3 158.1 731.8 157.6 733.1 157.1C734.5 156.6 735.8 156.4 737.1 157.1C738.5 157.8 739.8 160.1 741.1 161.1C742.5 162.1 744 164 745.1 163.1C746.3 162.3 747 159.3 748.1 156.1C749.3 152.9 750.8 148.1 752.2 144.1C753.5 140.1 754.8 136.1 756.2 132.1C757.5 128.1 759 123.2 760.2 120.1C761.3 116.9 762 114.5 763.2 113.1C764.3 111.7 765.7 112.1 767.2 111.7C768.7 111.2 770.5 110.1 772.2 110.5C773.8 110.8 775.5 113.6 777.2 113.7C778.8 113.8 780.5 111.4 782.2 111.1C783.9 110.7 785.5 111.4 787.2 111.7C788.9 111.9 790.4 112.5 792.2 112.5C794 112.5 796.4 111.2 798.2 111.7C800 112.1 801.9 113.5 803.2 115.1C804.5 116.6 805.2 119.7 806.2 121.1C807.2 122.4 808.2 123.6 809.2 123.1C810.2 122.6 811.2 119.6 812.2 118.1C813.2 116.6 814.1 115 815.2 114.1C816.4 113.1 818.1 112.6 819.2 112.5C820.4 112.3 821.1 113.8 822.2 113.1C823.4 112.3 824.9 109.1 826.2 108.1C827.6 107.1 829.1 106.2 830.2 107.1C831.4 107.9 832.4 110.7 833.2 113.1C834.1 115.4 834.4 119.4 835.2 121.1C836.1 122.7 837.1 123.2 838.2 123.1C839.4 122.9 840.9 119.7 842.3 120.1C843.6 120.4 845.1 124.4 846.3 125.1C847.4 125.7 848.3 125.2 849.3 124.1C850.3 122.9 851.3 119.7 852.3 118.1C853.3 116.4 854.1 114.4 855.3 114.1C856.4 113.7 857.9 115.9 859.3 116.1C860.6 116.2 861.9 115.6 863.3 115.1C864.6 114.6 866.3 113.3 867.3 113.1C868.3 112.8 869 113.6 869.3 113.7" stroke="#ff0000" stroke-width="5.6" fill="none" stroke-linejoin="round" stroke-linecap="butt"/>
<path d="M642.4 103.6C643.2 103.6 645.8 104 647 103.6C648.3 103.3 648.9 102.5 650 101.6C651.2 100.8 652.7 98.7 654 98.4C655.4 98.2 656.7 98.9 658 100C659.4 101.1 660.9 104.3 662 105.1C663.2 105.8 664.1 105 665.1 104.5C666.1 103.9 667.1 101.5 668.1 101.6C669.1 101.7 669.7 103.3 671.1 105.1C672.4 106.8 674.7 109.2 676.1 112.1C677.4 114.9 678.2 117.7 679.1 122.1C679.9 126.4 680.4 132.4 681.1 138.1C681.7 143.8 682.4 150.4 683.1 156.1C683.7 161.8 684.4 166.8 685.1 172.1C685.7 177.5 686.2 182.8 687.1 188.1C687.9 193.5 689.1 199.3 690.1 204.2C691.1 209 692.1 214.1 693.1 217.2C694 220.2 694.8 221.9 695.7 222.6C696.6 223.3 697.5 222.1 698.5 221.2C699.5 220.3 700.8 217.7 701.7 217.2C702.6 216.7 703.4 217 704.1 218.2C704.8 219.3 705.3 222.8 706.1 224.2C706.9 225.6 708.1 226.3 709.1 226.6C710.1 226.9 711.2 225.3 712.1 226.2C713 227.1 713.7 230.5 714.5 232.2C715.3 233.9 716.2 236.6 717.1 236.6C718 236.6 718.9 234.6 719.7 232.2C720.5 229.8 721.2 225.4 722.1 222.2C723 219 724.1 216.2 725.1 213.2C726.1 210.2 727.1 207.5 728.1 204.2C729.1 200.8 730.1 195.8 731.1 193.2C732.1 190.5 733 189.1 734.1 188.1C735.3 187.1 736.8 187.6 738.1 187.1C739.5 186.6 741 186.5 742.1 185.1C743.3 183.8 744.1 181.6 745.1 179.1C746.1 176.6 747 173.6 748.1 170.1C749.3 166.6 750.8 161.9 752.2 158.1C753.5 154.3 754.8 150.6 756.2 147.1C757.5 143.6 758.8 139.6 760.2 137.1C761.5 134.6 762.7 133.4 764.2 132.1C765.7 130.7 767.7 129.7 769.2 129.1C770.7 128.4 771.7 128.1 773.2 128.1C774.7 128.1 776.7 129.2 778.2 129.1C779.7 128.9 781 128.1 782.2 127.1C783.4 126.1 784.2 124.6 785.2 123.1C786.2 121.6 787 119.3 788.2 118.1C789.4 116.8 790.9 116.4 792.2 115.7C793.5 114.9 794.7 113.9 796.2 113.7C797.7 113.5 799.7 114.8 801.2 114.5C802.7 114.1 803.9 111.5 805.2 111.7C806.5 111.9 808 115.4 809.2 115.7C810.4 115.9 811.1 113.9 812.2 113.1C813.4 112.2 814.9 111.1 816.2 110.5C817.6 109.8 819.1 109.7 820.2 109.1C821.4 108.4 822.1 106.6 823.2 106.5C824.4 106.3 825.7 108.1 827.2 108.1C828.7 108.1 830.6 106.3 832.2 106.5C833.9 106.6 835.7 109.1 837.2 109.1C838.8 109.1 839.9 107.3 841.3 106.5C842.6 105.6 843.8 104.6 845.3 104.1C846.8 103.5 848.8 103.9 850.3 103C851.8 102.2 852.9 100.2 854.3 99C855.6 97.9 856.8 96.5 858.3 96C859.8 95.6 861.6 96.3 863.3 96.4C864.9 96.5 867.4 96.6 868.3 96.6" stroke="#0000ff" stroke-width="5.6" fill="none" stroke-linejoin="round" stroke-linecap="butt"/>
<path d="M936 97C936.9 97.7 939.5 100 941 101C942.5 102 943.8 101.9 945.1 103C946.3 104.2 947.4 108.2 948.5 108.1C949.6 107.9 950.7 103.4 951.7 102C952.7 100.7 953.4 100 954.5 100C955.5 100 956.8 101 958.1 102C959.3 103 960.6 105.7 962.1 106.1C963.6 106.4 965.4 103.9 967.1 104.1C968.7 104.2 970.4 106.4 972.1 107.1C973.8 107.7 975.8 107.1 977.1 108.1C978.4 109.1 979.3 110.1 980.1 113.1C980.9 116.1 981.4 120.6 982.1 126.1C982.8 131.6 983.4 139.1 984.1 146.1C984.8 153.1 985.7 161.8 986.5 168.1C987.3 174.5 988.2 180 989.1 184.1C990 188.3 990.9 191.7 991.7 193.2C992.5 194.7 993.3 194.7 994.1 193.2C994.9 191.7 995.7 187.6 996.5 184.1C997.3 180.6 998.2 176.1 999.1 172.1C1000 168.1 1001.1 163.3 1002.1 160.1C1003.1 156.9 1004 155.1 1005.1 153.1C1006.3 151.1 1008 150.6 1009.1 148.1C1010.3 145.6 1011.1 141.4 1012.1 138.1C1013.1 134.8 1014 131.1 1015.1 128.1C1016.3 125.1 1017.8 122.1 1019.1 120.1C1020.5 118.1 1022 117.2 1023.1 116.1C1024.3 114.9 1025 113.3 1026.1 113.1C1027.3 112.8 1028.8 113.7 1030.1 114.5C1031.5 115.2 1033 117.4 1034.2 117.7C1035.3 117.9 1036.2 116.8 1037.2 116.1C1038.2 115.3 1039.2 112.7 1040.2 113.1C1041.2 113.4 1042.2 116.9 1043.2 118.1C1044.1 119.2 1044.8 120.2 1045.8 120.1C1046.8 119.9 1048.1 117.6 1049.2 117.1C1050.2 116.6 1051 117.2 1052.2 117.1C1053.3 116.9 1054.8 117.1 1056.2 116.1C1057.5 115.1 1059 111.9 1060.2 111.1C1061.4 110.2 1062.2 110.4 1063.2 111.1C1064.2 111.7 1065.2 113.9 1066.2 115.1C1067.2 116.2 1068 117.7 1069.2 118.1C1070.4 118.4 1071.9 117.7 1073.2 117.1C1074.5 116.4 1076 116.1 1077.2 114.1C1078.4 112.1 1079 107.1 1080.2 105.1C1081.4 103 1082.9 103.4 1084.2 102C1085.5 100.7 1087 98 1088.2 97C1089.4 96 1090.2 95.2 1091.2 96C1092.2 96.9 1093.2 101.4 1094.2 102C1095.2 102.7 1096.2 101 1097.2 100C1098.2 99 1099.1 96.5 1100.2 96C1101.4 95.5 1102.9 97.4 1104.2 97C1105.6 96.7 1107.1 94.8 1108.2 94C1109.4 93.3 1110.2 91.9 1111.2 92.4C1112.2 92.9 1113.4 95.3 1114.2 97C1115.1 98.8 1115.4 101.5 1116.2 103C1117.1 104.6 1118.1 106 1119.3 106.5C1120.4 106.9 1122.1 105.6 1123.3 105.7C1124.4 105.8 1125.3 106 1126.3 107.1C1127.3 108.1 1128.3 110.6 1129.3 112.1C1130.3 113.6 1131.1 115.2 1132.3 116.1C1133.4 116.9 1134.9 117.1 1136.3 117.1C1137.6 117.1 1139.1 115.4 1140.3 116.1C1141.4 116.7 1142.3 119.2 1143.3 121.1C1144.3 122.9 1145.1 126.6 1146.3 127.1C1147.4 127.6 1149 124.4 1150.3 124.1C1151.6 123.7 1153 125.2 1154.3 125.1C1155.6 124.9 1157.1 124.1 1158.3 123.1C1159.5 122.1 1160.5 120.4 1161.3 119.1C1162.1 117.7 1163 115.7 1163.3 115.1" stroke="#ff0000" stroke-width="5.6" fill="none" stroke-linejoin="round" stroke-linecap="butt"/>
<path d="M937 100C937.5 101.2 939 105 940 107.1C941 109.1 942 110.8 943 112.5C944.1 114.1 945.1 115.3 946.1 117.1C947.1 118.8 948.1 121.6 949.1 123.1C950.1 124.5 951.1 125.8 952.1 125.7C953.1 125.5 954.1 123.7 955.1 122.1C956.1 120.5 957.1 117.1 958.1 116.1C959.1 115 960.1 115.2 961.1 115.7C962.1 116.2 962.9 118.7 964.1 119.1C965.2 119.4 966.7 117.7 968.1 117.7C969.4 117.7 970.9 119.3 972.1 119.1C973.3 118.8 974.3 117.2 975.1 116.1C975.9 114.9 976.4 112.1 977.1 112.1C977.8 112.1 978.6 112.7 979.1 116.1C979.6 119.4 979.7 126.1 980.1 132.1C980.5 138.1 981.2 145.4 981.7 152.1C982.2 158.8 982.5 165.5 983.1 172.1C983.7 178.8 984.3 185.8 985.1 192.2C985.9 198.5 987.1 205.2 988.1 210.2C989.1 215.2 989.9 219 991.1 222.2C992.3 225.4 993.9 227.8 995.1 229.2C996.3 230.6 996.9 230.8 998.1 230.6C999.3 230.4 1000.9 230.3 1002.1 228.2C1003.3 226.1 1004.3 222.2 1005.1 218.2C1006 214.2 1006.5 208.8 1007.1 204.2C1007.8 199.5 1008.3 193.8 1009.1 190.1C1010 186.5 1011.1 184.8 1012.1 182.1C1013.1 179.5 1014.1 177 1015.1 174.1C1016.1 171.3 1017 168 1018.1 165.1C1019.3 162.3 1021 159.1 1022.1 157.1C1023.3 155.1 1024 153.3 1025.1 153.1C1026.3 152.9 1027.8 155.1 1029.1 155.7C1030.5 156.3 1031.8 156.6 1033.2 156.5C1034.5 156.4 1036 155.8 1037.2 155.1C1038.3 154.4 1039 152.8 1040.2 152.1C1041.3 151.4 1043 152.1 1044.2 151.1C1045.3 150.1 1046.2 148.6 1047.2 146.1C1048.2 143.6 1049.2 139.4 1050.2 136.1C1051.2 132.7 1052.2 128.6 1053.2 126.1C1054.2 123.6 1055 122.7 1056.2 121.1C1057.3 119.4 1058.8 117.5 1060.2 116.1C1061.5 114.6 1062.7 113.5 1064.2 112.5C1065.7 111.4 1067.5 110.3 1069.2 109.7C1070.9 109 1072.7 108.7 1074.2 108.5C1075.7 108.2 1076.9 108.3 1078.2 108.1C1079.5 107.8 1080.9 107.1 1082.2 107.1C1083.5 107.1 1085 108.6 1086.2 108.1C1087.4 107.6 1088.2 105.9 1089.2 104.1C1090.2 102.2 1091.2 98.5 1092.2 97C1093.2 95.5 1094.2 94.9 1095.2 95C1096.2 95.2 1097.2 96.4 1098.2 98C1099.2 99.7 1100.2 103.7 1101.2 105.1C1102.2 106.4 1103.2 106.9 1104.2 106.1C1105.2 105.2 1106.2 101.9 1107.2 100C1108.2 98.2 1109.1 96 1110.2 95C1111.4 94.1 1112.9 94.2 1114.2 94.4C1115.6 94.7 1116.9 95.7 1118.2 96.4C1119.6 97.2 1120.9 98.8 1122.3 99C1123.6 99.2 1124.9 98 1126.3 97.6C1127.6 97.3 1128.9 96.7 1130.3 97C1131.6 97.4 1132.9 98.5 1134.3 99.6C1135.6 100.8 1136.9 102.6 1138.3 104.1C1139.6 105.5 1141.1 107 1142.3 108.5C1143.4 110 1144.3 112.3 1145.3 113.1C1146.3 113.8 1147.4 114.2 1148.3 113.1C1149.1 111.9 1149.6 108.7 1150.3 106.1C1151 103.4 1151.6 99.2 1152.3 97C1153 94.9 1153.3 93.9 1154.3 93C1155.3 92.2 1157.1 92.5 1158.3 92C1159.5 91.5 1160.8 90.4 1161.3 90" stroke="#0000ff" stroke-width="5.6" fill="none" stroke-linejoin="round" stroke-linecap="butt"/>
<path d="M1233.6 113.7C1234.2 113 1235.8 110.6 1237 109.7C1238.3 108.7 1239.7 107.6 1241 108.1C1242.4 108.5 1243.9 111.4 1245.1 112.5C1246.2 113.5 1247.1 114.6 1248.1 114.5C1249.1 114.3 1250.1 112.7 1251.1 111.7C1252.1 110.7 1253.1 108.5 1254.1 108.5C1255.1 108.5 1256.1 110.8 1257.1 111.7C1258.1 112.5 1258.9 113.9 1260.1 113.7C1261.2 113.4 1262.7 111.5 1264.1 110.1C1265.4 108.6 1266.9 106.7 1268.1 105.1C1269.2 103.4 1270.1 100.4 1271.1 100C1272 99.7 1272.9 100.4 1273.7 103C1274.5 105.7 1275 110.6 1275.7 116.1C1276.4 121.6 1277.3 129.4 1278.1 136.1C1278.9 142.8 1279.7 149.4 1280.5 156.1C1281.3 162.8 1282.2 170.6 1283.1 176.1C1284 181.6 1284.7 186.6 1285.7 189.1C1286.7 191.7 1288.2 192.3 1289.1 191.1C1290 190 1290.4 185 1291.1 182.1C1291.8 179.3 1292.3 176.1 1293.1 174.1C1293.9 172.1 1294.9 171.1 1296.1 170.1C1297.3 169.1 1298.9 169.8 1300.1 168.1C1301.3 166.5 1302.1 163.1 1303.1 160.1C1304.1 157.1 1305.1 152.9 1306.1 150.1C1307.1 147.3 1308 144.9 1309.1 143.1C1310.3 141.3 1311.8 140.4 1313.1 139.1C1314.5 137.8 1316 136.4 1317.1 135.1C1318.2 133.8 1318.7 131.7 1319.7 131.1C1320.7 130.4 1322.1 131.7 1323.1 131.1C1324.2 130.4 1325.1 128.6 1326.1 127.1C1327.1 125.6 1328.1 123.9 1329.1 122.1C1330.1 120.2 1331.2 117.7 1332.2 116.1C1333.1 114.4 1333.6 112.6 1334.6 112.1C1335.6 111.6 1337 112.8 1338.2 113.1C1339.4 113.3 1340.7 112.8 1341.8 113.7C1342.8 114.5 1343.7 117 1344.6 118.1C1345.5 119.1 1346.2 120.4 1347.2 120.1C1348.1 119.7 1349.3 116.9 1350.2 116.1C1351.1 115.2 1351.7 114.7 1352.6 115.1C1353.4 115.4 1354.2 117.3 1355.2 118.1C1356.1 118.8 1357.1 119.6 1358.2 119.7C1359.3 119.7 1360.7 119.4 1361.8 118.5C1362.9 117.5 1363.7 115.6 1364.6 114.1C1365.5 112.5 1366.3 110.3 1367.2 109.1C1368.1 107.8 1369.1 107 1370.2 106.5C1371.3 105.9 1372.7 105.2 1373.8 105.7C1374.9 106.1 1375.7 107.3 1376.6 109.1C1377.5 110.8 1378.3 113.2 1379.2 116.1C1380.1 118.9 1381.2 122.4 1382.2 126.1C1383.2 129.7 1384.2 134.6 1385.2 138.1C1386.2 141.6 1387 145.4 1388.2 147.1C1389.4 148.8 1390.9 148.1 1392.2 148.1C1393.6 148.1 1395.1 148.4 1396.2 147.1C1397.4 145.8 1398.2 142.3 1399.2 140.1C1400.2 137.9 1401.2 136.3 1402.2 134.1C1403.2 131.9 1404.2 129.4 1405.2 127.1C1406.2 124.7 1407.2 121.9 1408.2 120.1C1409.2 118.2 1410.1 117 1411.2 116.1C1412.4 115.1 1414.1 115 1415.2 114.5C1416.4 114 1417.1 113.2 1418.2 113.1C1419.4 112.9 1420.9 114.2 1421.9 113.7C1422.9 113.2 1423.5 111 1424.3 110.1C1425.1 109.1 1425.8 107.8 1426.7 108.1C1427.5 108.3 1428.3 110.6 1429.3 111.7C1430.2 112.7 1431.3 113.7 1432.3 114.5C1433.3 115.2 1434.3 115.7 1435.3 116.1C1436.3 116.4 1437.3 117.1 1438.3 116.5C1439.3 115.8 1440.3 113.5 1441.3 112.1C1442.2 110.6 1442.9 108.7 1443.9 107.7C1444.9 106.7 1446.2 106.6 1447.3 106.1C1448.4 105.5 1449.4 104.8 1450.3 104.5C1451.2 104.1 1452.3 104.1 1452.7 104.1" stroke="#ff0000" stroke-width="5.6" fill="none" stroke-linejoin="round" stroke-linecap="butt"/>
<path d="M1233.6 101C1234.4 101.4 1236.8 103.3 1238 103C1239.3 102.8 1240 100.6 1241 99.6C1242 98.6 1242.9 97.1 1244.1 97C1245.2 96.9 1246.7 98.8 1248.1 99C1249.4 99.3 1250.7 98.4 1252.1 98.4C1253.4 98.4 1254.7 98.5 1256.1 99C1257.4 99.6 1258.9 101.6 1260.1 101.6C1261.2 101.6 1262.1 100.1 1263.1 99C1264.1 97.9 1264.9 96.1 1266.1 95C1267.2 93.9 1268.8 93 1270.1 92.4C1271.3 91.9 1272.7 91 1273.7 91.6C1274.7 92.2 1275.4 93.3 1276.1 96C1276.8 98.8 1277.4 103.4 1278.1 108.1C1278.8 112.7 1279.4 118.4 1280.1 124.1C1280.8 129.7 1281.7 136.1 1282.5 142.1C1283.3 148.1 1284.2 154.4 1285.1 160.1C1286 165.8 1286.9 171.1 1287.7 176.1C1288.5 181.1 1289 186.5 1289.7 190.1C1290.4 193.8 1291 196.6 1291.7 197.8C1292.4 198.9 1293 198.1 1293.7 197.2C1294.4 196.2 1295.2 194.2 1296.1 192.2C1297 190.1 1298.1 187.5 1299.1 185.1C1300.1 182.8 1301.1 180.5 1302.1 178.1C1303.1 175.8 1304.1 174.1 1305.1 171.1C1306.1 168.1 1307.2 164 1308.1 160.1C1309 156.3 1309.7 152.1 1310.5 148.1C1311.4 144.1 1312.4 140.1 1313.1 136.1C1313.9 132.1 1314.5 126.7 1315.1 124.1C1315.8 121.4 1316.3 121.2 1317.1 120.1C1318 118.9 1319.1 118.3 1320.1 117.1C1321.1 115.8 1322.1 114 1323.1 112.5C1324.1 110.9 1325 109.1 1326.1 107.7C1327.3 106.3 1328.8 104.9 1330.1 104.1C1331.5 103.2 1332.8 102.6 1334.2 102.4C1335.5 102.3 1336.8 102.8 1338.2 103C1339.5 103.2 1340.8 103.6 1342.2 103.6C1343.5 103.6 1345 103.7 1346.2 103C1347.3 102.4 1348.1 100.6 1349.2 99.6C1350.2 98.6 1351.5 97.1 1352.6 97C1353.7 96.9 1354.8 98.4 1355.8 99C1356.7 99.7 1357.3 101.3 1358.2 101C1359.1 100.8 1360.2 98 1361.2 97.6C1362.2 97.3 1363.2 98.5 1364.2 99C1365.2 99.6 1366.2 101.2 1367.2 101C1368.2 100.9 1369.2 98.9 1370.2 98C1371.2 97.1 1372.2 95.9 1373.2 95.6C1374.2 95.4 1375.2 95.7 1376.2 96.4C1377.2 97.2 1378.2 98.9 1379.2 100C1380.2 101.1 1381.2 103 1382.2 103C1383.2 103 1384.2 101.6 1385.2 100C1386.2 98.5 1387.2 95.3 1388.2 93.6C1389.2 92 1390.2 90.5 1391.2 90C1392.2 89.6 1393.1 90.5 1394.2 91C1395.4 91.5 1397.1 92 1398.2 93C1399.4 94 1400.2 96.2 1401.2 97C1402.2 97.9 1403.1 98.7 1404.2 98C1405.4 97.4 1407.1 94.7 1408.2 93C1409.4 91.4 1410.2 89.3 1411.2 88C1412.2 86.8 1413.2 85.6 1414.2 85.6C1415.2 85.6 1416.2 87 1417.2 88C1418.2 89 1419.1 91.1 1420.3 91.6C1421.4 92.1 1422.9 91.2 1424.3 91C1425.6 90.8 1426.9 90.1 1428.3 90.4C1429.6 90.8 1431 92.2 1432.3 93C1433.5 93.9 1434.7 95.5 1435.9 95.6C1437 95.7 1438.2 94.2 1439.3 93.6C1440.3 93 1441.1 92.1 1442.3 92C1443.4 91.9 1444.9 92.8 1446.3 93C1447.6 93.3 1449.2 93.4 1450.3 93.6C1451.4 93.9 1452.3 94.3 1452.7 94.4" stroke="#0000ff" stroke-width="5.6" fill="none" stroke-linejoin="round" stroke-linecap="butt"/>
<path d="M1517.1 99C1517.8 99.5 1519.8 101.2 1521.1 102C1522.5 102.8 1523.6 103.4 1525.1 103.6C1526.6 103.8 1528.8 102.5 1530.1 103C1531.5 103.5 1532 105.7 1533.2 106.4C1534.3 107.2 1536.1 107 1537.2 107.6C1538.3 108.2 1539.1 107.6 1539.8 110C1540.4 112.4 1540.6 116.7 1541.2 122C1541.7 127.4 1542.4 135.1 1543.2 142.1C1543.9 149.1 1544.9 157.1 1545.8 164.1C1546.6 171.1 1547.4 177.4 1548.2 184.1C1549 190.8 1549.7 197.5 1550.6 204.1C1551.4 210.8 1552.3 217.8 1553.2 224.2C1554 230.5 1554.9 236.5 1555.8 242.2C1556.7 247.8 1557.6 253.5 1558.6 258.2C1559.6 262.9 1560.7 266.7 1561.8 270.2C1562.9 273.7 1564 276.7 1565.2 279.2C1566.4 281.7 1568 283.4 1569.2 285.2C1570.4 287.1 1571.2 288.7 1572.2 290.2C1573.2 291.8 1574.3 294.6 1575.2 294.6C1576.1 294.6 1577 292.3 1577.8 290.2C1578.6 288.2 1579.1 284.2 1579.8 282.2C1580.5 280.2 1581.2 278.7 1582.2 278.2C1583.2 277.7 1584.6 279.2 1585.8 279.2C1587 279.2 1588.2 279.7 1589.2 278.2C1590.2 276.7 1591.1 273.5 1591.8 270.2C1592.6 266.9 1593.1 262.2 1593.8 258.2C1594.6 254.2 1595.3 249.8 1596.2 246.2C1597.1 242.5 1598.2 239.5 1599.2 236.2C1600.2 232.8 1601.2 229.5 1602.2 226.2C1603.2 222.8 1604.2 219.8 1605.2 216.1C1606.2 212.5 1607.4 207.8 1608.2 204.1C1609.1 200.5 1609.6 197.5 1610.2 194.1C1610.9 190.8 1611.2 186.9 1612.2 184.1C1613.2 181.3 1614.9 179 1616.2 177.1C1617.6 175.2 1618.8 173.3 1620.3 172.5C1621.8 171.7 1623.6 171.8 1625.3 172.1C1626.9 172.4 1628.9 174.6 1630.3 174.1C1631.6 173.6 1632.3 170.8 1633.3 169.1C1634.3 167.4 1635.3 164.7 1636.3 164.1C1637.3 163.5 1638.1 165 1639.3 165.7C1640.4 166.4 1641.8 168.4 1643.3 168.5C1644.8 168.6 1646.8 167.6 1648.3 166.5C1649.8 165.4 1650.8 163.7 1652.3 162.1C1653.8 160.5 1656 159.2 1657.3 157.1C1658.6 154.9 1659.3 151.4 1660.3 149.1C1661.3 146.7 1662.1 144.6 1663.3 143.1C1664.5 141.6 1666 141.2 1667.3 140.1C1668.6 139 1670 137.8 1671.3 136.5C1672.6 135.1 1673.8 133.3 1675.3 132C1676.8 130.8 1678.8 130.8 1680.3 129C1681.8 127.3 1683 122.6 1684.3 121.6C1685.7 120.6 1687 122.6 1688.3 123C1689.7 123.5 1691 124.1 1692.3 124.4C1693.7 124.8 1695 125.6 1696.3 125C1697.7 124.5 1699 122.7 1700.3 121C1701.7 119.4 1703 116.1 1704.3 115C1705.7 113.9 1707.2 114.6 1708.4 114.4C1709.5 114.3 1710.2 114.6 1711.4 114C1712.5 113.5 1714.2 111 1715.4 111C1716.5 111 1717.4 112.2 1718.4 114C1719.4 115.9 1720.4 119.5 1721.4 122C1722.4 124.5 1723.4 126.9 1724.4 129C1725.4 131.2 1726.4 132.5 1727.4 135.1C1728.4 137.6 1729.4 140.9 1730.4 144.1C1731.4 147.2 1732.4 150.4 1733.4 154.1C1734.3 157.7 1735.2 162.1 1736 166.1C1736.8 170.1 1737.3 174.4 1738 178.1C1738.7 181.8 1739.3 185.7 1740 188.1C1740.7 190.5 1741.5 191.6 1742.4 192.5C1743.3 193.5 1744.9 193.5 1745.4 193.7" stroke="#ff0000" stroke-width="5.6" fill="none" stroke-linejoin="round" stroke-linecap="butt"/>
<path d="M1517.7 97C1518.3 96.8 1520.1 95.6 1521.1 96C1522.1 96.4 1522.9 98.5 1523.7 99.6C1524.6 100.7 1525.1 102.3 1526.1 102.4C1527.2 102.5 1528.8 100.8 1530.1 100.4C1531.5 100 1532.8 99.9 1534.2 100C1535.5 100.1 1536.9 100.9 1538.2 101C1539.4 101.1 1540.8 99.7 1541.8 100.4C1542.8 101.1 1543.4 102.1 1544.2 105C1544.9 108 1545.5 112.9 1546.2 118C1546.8 123.2 1547.5 129.7 1548.2 136.1C1548.8 142.4 1549.4 149.4 1550.2 156.1C1550.9 162.7 1551.7 169.8 1552.6 176.1C1553.4 182.4 1554.3 188.4 1555.2 194.1C1556 199.8 1556.9 204.8 1557.8 210.1C1558.6 215.5 1559.4 221.1 1560.2 226.2C1561 231.2 1561.8 236.2 1562.6 240.2C1563.4 244.2 1564.3 247.5 1565.2 250.2C1566.1 252.9 1567.2 255 1568.2 256.2C1569.2 257.4 1570 257.5 1571.2 257.2C1572.4 256.9 1573.9 254.8 1575.2 254.6C1576.5 254.4 1578 255.8 1579.2 255.8C1580.4 255.8 1581.5 255.7 1582.6 254.6C1583.7 253.5 1584.8 251.3 1585.8 249.2C1586.8 247.1 1587.5 244.2 1588.6 242.2C1589.7 240.2 1591.2 239.5 1592.2 237.2C1593.2 234.8 1593.9 231.2 1594.6 228.2C1595.4 225.2 1595.8 222.2 1596.6 219.1C1597.5 216.1 1598.7 213.5 1599.8 210.1C1600.9 206.8 1602.1 202.8 1603.2 199.1C1604.4 195.5 1605.6 191.9 1606.6 188.1C1607.6 184.3 1608.3 180.1 1609.2 176.1C1610.2 172.1 1611.2 167.8 1612.2 164.1C1613.2 160.4 1614.2 156.7 1615.2 154.1C1616.2 151.4 1617.1 149.6 1618.2 148.1C1619.4 146.6 1620.9 145.8 1622.3 145.1C1623.6 144.3 1624.9 143.5 1626.3 143.7C1627.6 143.8 1629 145.4 1630.3 146.1C1631.5 146.7 1632.7 148.2 1633.9 147.7C1635 147.2 1636.2 144.7 1637.3 143.1C1638.3 141.5 1639.1 139 1640.3 138.1C1641.4 137.2 1642.8 137.7 1644.3 137.7C1645.8 137.6 1647.8 137.9 1649.3 137.7C1650.8 137.5 1652.1 137.4 1653.3 136.5C1654.5 135.5 1655.3 134.3 1656.3 132C1657.3 129.8 1658.3 126.2 1659.3 123C1660.3 119.9 1661.3 115.5 1662.3 113C1663.3 110.6 1664.1 109.4 1665.3 108.4C1666.5 107.4 1668 107.7 1669.3 107C1670.6 106.4 1672 105.3 1673.3 104.4C1674.6 103.5 1675.8 102.3 1677.3 101.6C1678.8 100.9 1681 99.9 1682.3 100C1683.7 100.1 1684.3 101.3 1685.3 102C1686.3 102.7 1687.2 104.1 1688.3 104C1689.5 103.9 1691.1 102.7 1692.3 101.6C1693.6 100.5 1694.8 98.7 1695.9 97.6C1697.1 96.5 1698.3 95.3 1699.3 95C1700.4 94.7 1701.3 95.4 1702.3 95.6C1703.3 95.8 1704.2 96.4 1705.3 96C1706.5 95.6 1708.2 93.8 1709.4 93C1710.5 92.2 1711.4 90.8 1712.4 91C1713.4 91.2 1714.4 93.3 1715.4 94.4C1716.4 95.5 1717.2 97.2 1718.4 97.6C1719.5 98 1721 97 1722.4 97C1723.7 97 1724.9 97.6 1726.4 97.6C1727.9 97.6 1729.9 96.8 1731.4 97C1732.9 97.2 1734.2 98.4 1735.4 99C1736.6 99.6 1737.4 100.6 1738.4 100.4C1739.4 100.2 1740.4 99 1741.4 98C1742.4 97 1743.6 95.2 1744.4 94.4C1745.2 93.6 1746.1 93.2 1746.4 93" stroke="#0000ff" stroke-width="5.6" fill="none" stroke-linejoin="round" stroke-linecap="butt"/>
<path d="M643 323.1C643.7 323.4 645.9 325.6 647 325.1C648.2 324.6 649 321.4 650 320.1C651 318.7 652 317.6 653 317.1C654 316.6 655 317.9 656 317.1C657 316.2 658.2 314.1 659 312.1C659.9 310.1 660.2 306.5 661 305.1C661.9 303.6 663 303.5 664.1 303.6C665.1 303.8 666.1 304.8 667.1 305.7C668.1 306.6 669.1 307.3 670.1 309.1C671.1 310.8 671.9 314.4 673.1 316.1C674.2 317.7 675.9 318.9 677.1 319.1C678.2 319.2 679.1 317.2 680.1 317.1C681.1 316.9 682.1 317.1 683.1 318.1C684.1 319.1 685.1 321.2 686.1 323.1C687.1 324.9 688.1 326.6 689.1 329.1C690.1 331.6 691.1 334.9 692.1 338.1C693.1 341.3 694.1 344.6 695.1 348.1C696.1 351.6 697.1 356.6 698.1 359.1C699.1 361.6 700.2 363.1 701.1 363.1C702 363.1 702.9 361.4 703.7 359.1C704.5 356.8 705.3 352.4 706.1 349.1C706.9 345.8 707.7 341 708.5 339.1C709.3 337.2 710.2 337.7 711.1 337.7C712 337.7 713.1 339.7 714.1 339.1C715.1 338.5 716.1 335.8 717.1 334.1C718.1 332.4 718.9 330.6 720.1 329.1C721.3 327.6 722.8 326.3 724.1 325.1C725.5 323.8 726.8 322 728.1 321.7C729.5 321.3 730.8 322.3 732.1 323.1C733.5 323.8 735 326.1 736.1 326.1C737.3 326.1 738.1 324.2 739.1 323.1C740.2 321.9 741.4 320.1 742.5 319.1C743.7 318.1 745 317.9 746.1 317.1C747.2 316.2 748 314.4 749.1 314.1C750.3 313.7 751.8 315.6 753.2 315.1C754.5 314.6 755.8 312.2 757.2 311.1C758.5 309.9 759.8 308.4 761.2 308.1C762.5 307.7 763.8 308.8 765.2 309.1C766.5 309.3 767.8 309.3 769.2 309.7C770.5 310 772 311 773.2 311.1C774.3 311.1 775.2 311.1 776.2 310.1C777.2 309.1 778.2 306.6 779.2 305.1C780.2 303.5 781 302.2 782.2 301C783.4 299.9 785 298.7 786.2 298C787.4 297.4 788.3 296.7 789.2 297C790.1 297.4 791 298.7 791.8 300C792.6 301.4 793.3 303.4 794.2 305.1C795.1 306.7 796 308.4 797.2 310.1C798.4 311.7 800 313.6 801.2 315.1C802.4 316.6 803.2 317.7 804.2 319.1C805.2 320.4 806 322.2 807.2 323.1C808.4 323.9 810.1 323.4 811.2 324.1C812.4 324.7 813.2 325.7 814.2 327.1C815.2 328.4 816.2 330.6 817.2 332.1C818.2 333.6 819.2 334.9 820.2 336.1C821.2 337.3 822.2 338.4 823.2 339.1C824.2 339.8 825.3 340.8 826.2 340.5C827.1 340.2 827.9 338.8 828.6 337.1C829.4 335.4 830 332.6 830.6 330.1C831.3 327.6 831.9 324.2 832.6 322.1C833.4 319.9 834.1 318.3 835.2 317.1C836.3 315.8 838.1 314.8 839.3 314.5C840.4 314.1 841.3 314.5 842.3 315.1C843.3 315.7 844.3 317.9 845.3 318.1C846.2 318.2 847.1 317.6 847.9 316.1C848.6 314.6 849.1 311.2 849.9 309.1C850.6 306.9 851.4 304.6 852.3 303C853.2 301.5 854.3 300.2 855.3 300C856.3 299.9 857.1 301 858.3 302C859.4 303 860.9 304.6 862.3 306.1C863.6 307.6 865 309.7 866.3 311.1C867.5 312.4 869.3 313.6 869.9 314.1" stroke="#ff0000" stroke-width="5.6" fill="none" stroke-linejoin="round" stroke-linecap="butt"/>
<path d="M643.6 322.1C644.2 321.4 646 319.9 647 318.1C648 316.2 648.8 312.9 649.6 311.1C650.5 309.2 651.1 308 652 307.1C652.9 306.2 654 305.5 655 305.7C656 305.8 657 307.2 658 308.1C659 309 660 310.9 661 311.1C662 311.2 663 310.6 664.1 309.1C665.1 307.6 666.1 303.7 667.1 302C668.1 300.4 669.1 299.5 670.1 299C671.1 298.5 672.1 298.7 673.1 299C674.1 299.4 675.1 300 676.1 301C677.1 302 678.1 303.6 679.1 305.1C680.1 306.5 681 308.5 682.1 309.7C683.2 310.8 684.7 311 685.7 312.1C686.7 313.1 687.3 313.7 688.1 316.1C688.8 318.4 689.4 321.7 690.1 326.1C690.7 330.4 691.4 336.8 692.1 342.1C692.7 347.4 693.4 352.8 694.1 358.1C694.8 363.5 695.7 369.1 696.5 374.1C697.3 379.1 698.3 384.7 699.1 388.1C699.9 391.6 700.3 393.9 701.1 394.6C701.9 395.2 702.7 393.7 703.7 392.2C704.7 390.6 706 387.5 707.1 385.1C708.2 382.8 709.1 380.5 710.1 378.1C711.1 375.8 712.1 373.8 713.1 371.1C714.1 368.5 715.2 365.5 716.1 362.1C717 358.8 717.8 354.8 718.5 351.1C719.2 347.4 719.9 343.3 720.5 340.1C721.1 336.9 721.3 334.3 722.1 332.1C722.9 329.9 724 328.4 725.1 327.1C726.3 325.7 728 325.2 729.1 324.1C730.3 322.9 731.1 321.1 732.1 320.1C733.1 319 734 318.2 735.1 317.7C736.3 317.2 737.8 317.8 739.1 317.1C740.5 316.3 741.8 314.4 743.1 313.1C744.5 311.7 746 310.1 747.1 309.1C748.3 308.1 749 307.4 750.1 307.1C751.3 306.7 752.8 308.2 754.2 307.1C755.5 305.9 756.8 302.2 758.2 300C759.5 297.9 760.8 295.3 762.2 294C763.5 292.8 764.8 292.5 766.2 292.4C767.5 292.4 768.9 293 770.2 293.6C771.4 294.2 772.8 294.8 773.8 296C774.8 297.3 775.4 300 776.2 301C777 302.1 777.7 302.9 778.6 302.4C779.4 301.9 780.2 298.9 781.2 298C782.1 297.1 783.2 296.5 784.2 297C785.2 297.5 786.3 300.2 787.2 301C788.1 301.9 788.9 302.5 789.8 302C790.7 301.5 791.7 298.7 792.6 298C793.5 297.4 794.3 297.4 795.2 298C796.1 298.7 797.2 300.7 798.2 302C799.2 303.4 800.2 305.1 801.2 306.1C802.2 307 803.2 307.3 804.2 307.7C805.2 308 806.2 308.5 807.2 308.1C808.2 307.6 809.3 306.7 810.2 305.1C811.1 303.4 811.9 299.8 812.6 298C813.4 296.3 813.9 295.1 814.6 294.4C815.4 293.8 816.3 293.4 817.2 294C818.2 294.6 819.1 296.9 820.2 298C821.4 299.2 822.9 300.2 824.2 301C825.6 301.9 827.1 302 828.2 303C829.4 304.1 830.2 306.1 831.2 307.1C832.2 308.1 833.2 309.1 834.2 309.1C835.2 309.1 836.2 307.7 837.2 307.1C838.2 306.4 839.1 305.5 840.3 305.1C841.4 304.6 842.9 304.9 844.3 304.5C845.6 304 847 302.8 848.3 302.4C849.5 302 850.9 303.3 851.9 302C852.8 300.8 853.2 297 853.9 295C854.5 293.1 855.1 291.3 855.9 290.4C856.6 289.6 857.5 289.4 858.3 290C859 290.6 859.4 292 860.3 294C861.1 296 862.3 299.8 863.3 302C864.3 304.3 865.3 306.1 866.3 307.7C867.3 309.3 868.5 310.7 869.3 311.7C870.1 312.7 871 313.3 871.3 313.7" stroke="#0000ff" stroke-width="5.6" fill="none" stroke-linejoin="round" stroke-linecap="butt"/>
<path d="M945.1 318.1C945.7 317.9 947.9 317.9 949.1 317.1C950.2 316.2 951 313.8 952.1 313C953.2 312.3 954.6 312.1 955.7 312.4C956.7 312.8 957.5 314.2 958.5 315.1C959.5 315.9 960.7 317.8 961.7 317.7C962.7 317.5 963.4 315 964.5 314.1C965.5 313.1 966.9 312.7 968.1 312C969.3 311.4 970.5 311.3 971.7 310C972.8 308.8 974 304.9 975.1 304.4C976.2 303.9 977.1 305.9 978.1 307C979.1 308.1 980.1 310.5 981.1 311C982.1 311.5 983.1 310.5 984.1 310C985.1 309.5 986.2 307.5 987.1 308C988 308.5 988.9 310.9 989.7 313C990.5 315.2 991 318.2 991.7 321.1C992.4 323.9 993.2 326.9 994.1 330.1C995 333.2 996.1 336.7 997.1 340.1C998.1 343.4 999.1 348.1 1000.1 350.1C1001.1 352.1 1002.2 352.6 1003.1 352.1C1004.1 351.6 1004.9 348.2 1005.7 347.1C1006.6 346 1007.3 345.4 1008.1 345.7C1008.9 346 1009.7 347.4 1010.5 349.1C1011.4 350.8 1012.3 354 1013.1 356.1C1014 358.2 1014.8 360.6 1015.7 361.7C1016.6 362.8 1017.6 363.3 1018.5 362.5C1019.4 361.7 1020.2 359 1021.1 357.1C1022.1 355.2 1023 352.8 1024.1 351.1C1025.3 349.4 1026.8 348.9 1028.1 347.1C1029.5 345.3 1030.8 341.9 1032.2 340.1C1033.5 338.2 1034.8 337.7 1036.2 336.1C1037.5 334.4 1038.8 331.9 1040.2 330.1C1041.5 328.2 1042.7 326.5 1044.2 325.1C1045.7 323.7 1047.5 322.7 1049.2 321.7C1050.8 320.7 1052.5 320.5 1054.2 319.1C1055.8 317.6 1057.7 314.3 1059.2 313C1060.7 311.8 1061.7 312.3 1063.2 311.6C1064.7 311 1066.4 310.1 1068.2 309C1070 307.9 1072.7 306.7 1074.2 305C1075.7 303.4 1076.2 300.1 1077.2 299C1078.2 297.9 1079.2 298.1 1080.2 298.4C1081.2 298.8 1082 300.8 1083.2 301C1084.4 301.2 1085.9 300.2 1087.2 299.6C1088.5 299.1 1089.9 297.8 1091.2 297.6C1092.6 297.4 1093.9 298.4 1095.2 298.4C1096.6 298.4 1097.9 297.7 1099.2 297.6C1100.6 297.6 1102.1 297.6 1103.2 298C1104.4 298.4 1105.3 298.7 1106.2 300C1107.1 301.4 1107.6 304.8 1108.6 306C1109.6 307.3 1111 307.3 1112.2 307.6C1113.5 308 1114.9 308.1 1116.2 308C1117.6 307.9 1118.9 306.9 1120.3 307C1121.6 307.2 1122.9 308.8 1124.3 309C1125.6 309.3 1127.1 308.8 1128.3 308.4C1129.4 308.1 1130.3 306.9 1131.3 307C1132.3 307.1 1133.3 308.4 1134.3 309C1135.3 309.7 1136.3 310.9 1137.3 311C1138.3 311.1 1139.3 309.6 1140.3 309.6C1141.3 309.6 1142.1 310.5 1143.3 311C1144.4 311.6 1146.1 312.9 1147.3 313C1148.5 313.2 1149.3 313 1150.3 312C1151.3 311 1152.3 308.7 1153.3 307C1154.3 305.4 1155.1 303.3 1156.3 302C1157.5 300.8 1159 300.3 1160.3 299.6C1161.6 299 1163 298.7 1164.3 298C1165.6 297.4 1167.1 296 1168.3 295.6C1169.5 295.3 1170.4 295.6 1171.3 296C1172.2 296.5 1173.5 298 1173.9 298.4" stroke="#ff0000" stroke-width="5.6" fill="none" stroke-linejoin="round" stroke-linecap="butt"/>
<path d="M945.1 307.6C945.7 308.2 947.7 309.8 949.1 311C950.4 312.3 951.9 313.7 953.1 315.1C954.2 316.4 955 318.8 956.1 319.1C957.2 319.3 958.6 317.8 959.7 316.5C960.7 315.1 961.5 312.4 962.5 311C963.5 309.7 964.6 308.7 965.7 308.4C966.8 308.2 968 309.1 969.1 309.6C970.1 310.2 971.1 312.1 972.1 311.6C973.1 311.2 974.2 308 975.1 307C976 306.1 976.7 305.8 977.7 306C978.7 306.3 979.9 307.6 981.1 308.4C982.3 309.3 983.8 309.9 985.1 311C986.4 312.1 987.9 314.1 989.1 315.1C990.3 316.1 991.3 315.6 992.1 317.1C992.9 318.6 993.5 320.9 994.1 324.1C994.7 327.2 995.2 331.4 995.7 336.1C996.2 340.7 996.5 346.1 997.1 352.1C997.7 358.1 998.4 365.4 999.1 372.1C999.8 378.8 1000.4 386.1 1001.1 392.1C1001.8 398.1 1002.5 404.2 1003.1 408.2C1003.8 412.2 1004.3 413.9 1005.1 416.2C1006 418.4 1007.2 419.4 1008.1 421.8C1009 424.1 1009.7 428 1010.5 430.2C1011.4 432.3 1012.3 434.8 1013.1 434.6C1014 434.4 1014.9 431.8 1015.7 429.2C1016.6 426.6 1017.3 422.8 1018.1 419.2C1018.9 415.5 1019.8 411 1020.5 407.2C1021.3 403.3 1021.9 399.3 1022.5 396.1C1023.2 393 1023.8 389.8 1024.5 388.1C1025.3 386.5 1026.2 386.1 1027.1 386.1C1028.1 386.1 1029.1 387.7 1030.1 388.1C1031.1 388.5 1032.2 389.5 1033.2 388.5C1034.2 387.5 1035.2 384.2 1036.2 382.1C1037.2 380.1 1038.1 377.6 1039.2 376.1C1040.2 374.6 1041.5 375 1042.6 373.1C1043.7 371.3 1044.7 367.4 1045.8 365.1C1046.9 362.8 1048 361.1 1049.2 359.1C1050.3 357.1 1051.6 355.4 1052.6 353.1C1053.6 350.8 1054.3 347.4 1055.2 345.1C1056 342.7 1056.8 340.4 1057.8 339.1C1058.8 337.7 1060 337.8 1061.2 337.1C1062.3 336.3 1063.5 334.5 1064.6 334.5C1065.7 334.5 1066.8 336.2 1067.8 337.1C1068.8 337.9 1069.6 340 1070.6 339.7C1071.6 339.3 1072.9 337.2 1073.8 335.1C1074.7 333 1075.4 329.9 1076.2 327.1C1077 324.2 1077.8 320 1078.6 318.1C1079.4 316.2 1080.3 315.8 1081.2 315.7C1082.1 315.5 1083.2 316.5 1084.2 317.1C1085.2 317.6 1086.2 319.2 1087.2 319.1C1088.2 318.9 1089.2 317.2 1090.2 316.1C1091.2 315 1092.2 312.9 1093.2 312.4C1094.2 311.9 1095.2 313 1096.2 313C1097.2 313 1098.2 313.3 1099.2 312.4C1100.2 311.6 1101.1 308.9 1102.2 308C1103.4 307.1 1104.9 307.2 1106.2 307C1107.6 306.9 1108.9 307.3 1110.2 307C1111.6 306.8 1112.9 306.1 1114.2 305.6C1115.6 305.1 1117.1 304.6 1118.2 304C1119.4 303.5 1120.3 302.1 1121.3 302.4C1122.2 302.8 1123 304.9 1123.9 306C1124.7 307.1 1125.2 308.7 1126.3 309C1127.3 309.4 1129.1 307.7 1130.3 308C1131.4 308.4 1132.3 310.4 1133.3 311C1134.3 311.7 1135.3 312.9 1136.3 312C1137.3 311.2 1138.3 307.4 1139.3 306C1140.2 304.6 1141 303.7 1141.9 303.6C1142.7 303.6 1143.4 305.1 1144.3 305.6C1145.2 306.2 1146.1 307.1 1147.3 307C1148.5 306.9 1150 305.6 1151.3 305C1152.6 304.5 1154 304.1 1155.3 303.6C1156.6 303.1 1158.1 303 1159.3 302C1160.5 301 1161.3 298.8 1162.3 297.6C1163.3 296.5 1164.1 295.4 1165.3 295C1166.5 294.7 1168.1 295.2 1169.3 295.6C1170.5 296.1 1171.8 297.3 1172.3 297.6" stroke="#0000ff" stroke-width="5.6" fill="none" stroke-linejoin="round" stroke-linecap="butt"/>
<path d="M1238 278C1238.5 277.9 1240 276.5 1241 277C1242 277.5 1242.9 279.7 1244.1 281C1245.2 282.4 1246.4 284 1247.7 285C1248.9 286 1250.4 286.7 1251.7 287C1252.9 287.4 1253.9 287.5 1255.1 287C1256.2 286.6 1257.5 284.7 1258.5 284.4C1259.5 284.2 1260.3 284.4 1261.1 285.6C1261.8 286.9 1262.3 290.4 1263.1 292C1263.8 293.7 1264.7 295.1 1265.7 295.6C1266.7 296.1 1268.1 294.3 1269.1 295C1270.1 295.8 1270.8 297.5 1271.7 300C1272.5 302.5 1273.4 306.4 1274.1 310.1C1274.8 313.7 1275.4 317.4 1276.1 322.1C1276.8 326.7 1277.4 332.4 1278.1 338.1C1278.8 343.8 1279.4 350.1 1280.1 356.1C1280.8 362.1 1281.7 367.8 1282.5 374.1C1283.3 380.5 1284.2 387.1 1285.1 394.2C1286 401.2 1286.9 409.2 1287.7 416.2C1288.5 423.2 1289.3 429.9 1290.1 436.2C1290.9 442.5 1291.7 448.9 1292.5 454.2C1293.3 459.6 1294.3 465.6 1295.1 468.2C1295.9 470.9 1296.3 470.9 1297.1 470.2C1297.9 469.6 1298.9 467.2 1299.7 464.2C1300.5 461.2 1301.3 456.6 1302.1 452.2C1302.9 447.9 1303.7 442.5 1304.5 438.2C1305.4 433.9 1306.3 430.2 1307.1 426.2C1308 422.2 1308.9 417.8 1309.7 414.2C1310.6 410.5 1311.2 407.2 1312.1 404.2C1313 401.2 1314.1 399 1315.1 396.2C1316.1 393.3 1317.1 390.1 1318.1 387.1C1319.1 384.1 1320.3 381.3 1321.1 378.1C1322 375 1322.5 371.1 1323.1 368.1C1323.8 365.1 1324.1 362.3 1325.1 360.1C1326.1 357.9 1328 356.6 1329.1 355.1C1330.3 353.6 1331.1 351.7 1332.2 351.1C1333.2 350.5 1334.2 350.9 1335.2 351.7C1336.2 352.5 1337.2 355 1338.2 356.1C1339.2 357.2 1340.2 358.5 1341.2 358.5C1342.2 358.5 1343.3 357.8 1344.2 356.1C1345.1 354.4 1345.7 350.9 1346.6 348.1C1347.4 345.3 1348.2 341.4 1349.2 339.1C1350.1 336.8 1351 334.8 1352.2 334.1C1353.3 333.4 1354.9 334.6 1356.2 335.1C1357.4 335.6 1358.7 337.6 1359.8 337.1C1360.9 336.6 1361.5 333.8 1362.6 332.1C1363.7 330.4 1364.9 328.6 1366.2 327.1C1367.5 325.6 1368.9 323.4 1370.2 323.1C1371.5 322.7 1372.9 324.1 1374.2 325.1C1375.5 326.1 1376.9 328.2 1378.2 329.1C1379.5 330 1380.6 330.8 1381.8 330.5C1383 330.1 1384 328.6 1385.2 327.1C1386.4 325.5 1387.9 323.2 1389.2 321.1C1390.6 319 1391.9 315.8 1393.2 314.5C1394.6 313.1 1395.9 313.8 1397.2 313.1C1398.6 312.3 1399.7 311.1 1401.2 310.1C1402.7 309.1 1404.9 306.7 1406.2 307.1C1407.6 307.5 1408.2 311.4 1409.2 312.5C1410.2 313.6 1411.2 314.1 1412.2 313.7C1413.2 313.3 1414.2 310.3 1415.2 310.1C1416.2 309.8 1417.2 310.7 1418.2 312.1C1419.3 313.4 1420.3 316.7 1421.3 318.1C1422.3 319.5 1423.3 320.3 1424.3 320.5C1425.3 320.6 1426.3 320.5 1427.3 319.1C1428.2 317.7 1429 313.7 1429.9 312.1C1430.7 310.4 1431.5 309 1432.3 309.1C1433.1 309.1 1433.8 311 1434.7 312.5C1435.5 314 1436.2 316.7 1437.3 318.1C1438.4 319.4 1439.9 320.3 1441.3 320.5C1442.6 320.6 1443.9 319.8 1445.3 319.1C1446.6 318.3 1448 316.7 1449.3 316.1C1450.6 315.4 1452.1 314.9 1453.3 315.1C1454.5 315.2 1455.5 315.6 1456.3 317.1C1457.1 318.6 1457.6 322.2 1458.3 324.1C1459 325.9 1459.2 327.1 1460.3 328.1C1461.4 329.1 1464 329.7 1464.7 330.1" stroke="#ff0000" stroke-width="5.6" fill="none" stroke-linejoin="round" stroke-linecap="butt"/>
<path d="M1239.6 310.1C1239.9 311.2 1240.4 315.1 1241 317.1C1241.7 319.1 1242.6 321 1243.6 322.1C1244.7 323.2 1246 323.2 1247.1 323.7C1248.1 324.2 1249.1 325.2 1250.1 325.1C1251.1 325 1251.9 323.1 1253.1 323.1C1254.2 323.1 1255.9 325.2 1257.1 325.1C1258.2 325 1259.1 323.5 1260.1 322.5C1261.1 321.5 1262 319.5 1263.1 319.1C1264.1 318.7 1265.5 320 1266.5 320.1C1267.5 320.2 1268.2 320.2 1269.1 319.7C1269.9 319.2 1270.8 317 1271.7 317.1C1272.5 317.1 1273.4 317.9 1274.1 320.1C1274.8 322.2 1275.2 325.7 1275.7 330.1C1276.2 334.4 1276.6 340.4 1277.1 346.1C1277.6 351.8 1278 357.8 1278.5 364.1C1279 370.5 1279.5 377.5 1280.1 384.1C1280.7 390.8 1281.4 397.8 1282.1 404.2C1282.8 410.5 1283.4 416.5 1284.1 422.2C1284.8 427.9 1285.7 432.9 1286.5 438.2C1287.3 443.5 1288.3 449.2 1289.1 454.2C1289.9 459.2 1290.4 464.4 1291.1 468.2C1291.8 472.1 1292.3 475.4 1293.1 477.2C1293.9 479.1 1294.9 479.4 1296.1 479.3C1297.3 479.1 1299 476.4 1300.1 476.2C1301.2 476.1 1301.8 476.6 1302.5 478.2C1303.3 479.9 1303.9 483.6 1304.5 486.3C1305.2 488.9 1305.9 492.6 1306.5 494.3C1307.1 495.9 1307.5 496.1 1308.1 496.3C1308.8 496.4 1309.8 496.9 1310.5 495.3C1311.3 493.6 1311.8 490.1 1312.5 486.3C1313.3 482.4 1314.2 476.9 1315.1 472.2C1316.1 467.6 1317.2 462.9 1318.1 458.2C1319 453.6 1319.8 448.9 1320.5 444.2C1321.3 439.5 1321.9 434.5 1322.5 430.2C1323.2 425.9 1323.8 421.4 1324.5 418.2C1325.3 415 1326.2 413.2 1327.1 411.2C1328.1 409.2 1329.1 408.2 1330.1 406.2C1331.1 404.2 1332.2 401.7 1333.2 399.2C1334.2 396.7 1335.2 394 1336.2 391.1C1337.2 388.3 1338.2 385 1339.2 382.1C1340.1 379.3 1340.9 376.3 1341.8 374.1C1342.7 372 1343.7 370.8 1344.6 369.1C1345.5 367.5 1346.3 366.6 1347.2 364.1C1348 361.6 1349 357.8 1349.8 354.1C1350.5 350.4 1351.1 346.1 1351.8 342.1C1352.4 338.1 1353.1 333.8 1353.8 330.1C1354.4 326.4 1355 322.7 1355.8 320.1C1356.5 317.5 1357.3 315.9 1358.2 314.5C1359.1 313.1 1360 312.4 1361.2 311.7C1362.4 310.9 1363.9 310.2 1365.2 310.1C1366.5 310 1368 310.7 1369.2 311.1C1370.4 311.5 1371.4 312.7 1372.6 312.5C1373.8 312.2 1374.9 310.9 1376.2 309.7C1377.5 308.4 1378.9 306.3 1380.2 305.1C1381.5 303.9 1382.9 302.9 1384.2 302.4C1385.5 301.9 1386.9 301.8 1388.2 302C1389.5 302.2 1390.9 303.5 1392.2 303.6C1393.6 303.8 1394.9 303.5 1396.2 303C1397.6 302.6 1399.1 301.4 1400.2 301C1401.4 300.7 1402.2 301.7 1403.2 301C1404.2 300.4 1405.2 297.9 1406.2 297C1407.2 296.2 1408.1 296 1409.2 296C1410.4 296 1411.9 296.4 1413.2 297C1414.6 297.6 1416.1 299.1 1417.2 299.6C1418.4 300.1 1419.2 300.5 1420.3 300C1421.4 299.6 1422.7 298.5 1423.9 297C1425 295.5 1426.2 292.3 1427.3 291C1428.3 289.8 1429.3 289.5 1430.3 289.6C1431.3 289.8 1432.3 291 1433.3 292C1434.3 293.1 1435.1 295 1436.3 296C1437.4 297.1 1439.1 297.9 1440.3 298.4C1441.4 298.9 1442.3 298.4 1443.3 299C1444.3 299.7 1445.3 301.1 1446.3 302.4C1447.3 303.8 1448.1 306 1449.3 307.1C1450.5 308.2 1452.1 308.2 1453.3 309.1C1454.5 310 1455.3 311.7 1456.3 312.5C1457.3 313.2 1458.3 313.8 1459.3 313.7C1460.3 313.5 1461.5 312.8 1462.3 311.7C1463.1 310.6 1464 307.8 1464.3 307.1" stroke="#0000ff" stroke-width="5.6" fill="none" stroke-linejoin="round" stroke-linecap="butt"/>
<path d="M1524.1 299.4C1524.6 299.6 1526.1 299.7 1527.1 300.6C1528.1 301.6 1529.1 303.8 1530.1 305C1531.1 306.3 1532.2 306.9 1533.2 308C1534.2 309.2 1535.2 309.9 1536.2 312C1537.2 314.2 1538.2 316.9 1539.2 321C1540.1 325.2 1540.9 331.4 1541.8 337.1C1542.6 342.7 1543.3 349.1 1544.2 355.1C1545.1 361.1 1546.2 367.1 1547.2 373.1C1548.2 379.1 1549.2 385.4 1550.2 391.1C1551.2 396.8 1552.2 402.6 1553.2 407.1C1554.2 411.6 1555 415.6 1556.2 418.2C1557.3 420.7 1558.8 421.3 1560.2 422.2C1561.5 423 1563 424 1564.2 423.2C1565.4 422.3 1566.2 418.7 1567.2 417.2C1568.2 415.6 1569.2 414.1 1570.2 414.1C1571.2 414.1 1572.2 415.6 1573.2 417.2C1574.2 418.7 1575.2 421.7 1576.2 423.2C1577.2 424.7 1578.2 426.2 1579.2 426.2C1580.2 426.2 1581.3 425 1582.2 423.2C1583.1 421.3 1583.8 417.8 1584.6 415.1C1585.4 412.5 1586.3 408.8 1587.2 407.1C1588.1 405.5 1588.9 404.8 1589.8 405.1C1590.7 405.5 1591.6 407.8 1592.6 409.1C1593.6 410.5 1594.6 412.1 1595.8 413.1C1597.1 414.1 1598.8 415.1 1600.2 415.1C1601.6 415.2 1602.9 413.9 1604.2 413.5C1605.6 413.2 1607.1 413.9 1608.2 413.1C1609.4 412.4 1610.2 410.5 1611.2 409.1C1612.2 407.7 1613.1 406.1 1614.2 404.7C1615.4 403.4 1617 401.4 1618.2 401.1C1619.5 400.9 1620.7 403.1 1621.9 403.1C1623 403.1 1624.2 402.5 1625.3 401.1C1626.3 399.8 1627.3 397 1628.3 395.1C1629.3 393.3 1630.3 391.3 1631.3 390.1C1632.3 389 1633.3 388.6 1634.3 388.1C1635.3 387.6 1636.3 388.3 1637.3 387.1C1638.3 385.9 1639.1 382.6 1640.3 381.1C1641.4 379.6 1642.9 378.4 1644.3 378.1C1645.6 377.8 1646.9 378.8 1648.3 379.1C1649.6 379.4 1651 380.8 1652.3 380.1C1653.6 379.4 1655 376.8 1656.3 375.1C1657.6 373.4 1659.1 371.8 1660.3 370.1C1661.5 368.4 1662.4 367.1 1663.3 365.1C1664.2 363.1 1665 360.4 1665.9 358.1C1666.8 355.7 1667.7 352.8 1668.7 351.1C1669.7 349.3 1670.7 348.3 1671.9 347.5C1673.1 346.6 1674.7 346 1675.9 346.1C1677.2 346.2 1678.3 347.2 1679.3 348.1C1680.4 348.9 1681.2 350.4 1682.3 351.1C1683.4 351.7 1684.9 352.6 1685.9 352.1C1687 351.6 1687.8 349.9 1688.7 348.1C1689.6 346.2 1690.4 342.5 1691.3 341.1C1692.3 339.6 1693.2 339.4 1694.3 339.5C1695.5 339.5 1697 340.5 1698.3 341.5C1699.7 342.4 1701 344.1 1702.3 345.1C1703.7 346 1705 347.2 1706.4 347.1C1707.7 346.9 1709 344.2 1710.4 344.1C1711.7 343.9 1713 345.4 1714.4 346.1C1715.7 346.7 1717.2 347.8 1718.4 348.1C1719.5 348.3 1720.4 346.6 1721.4 347.5C1722.4 348.3 1723.4 351.2 1724.4 353.1C1725.4 354.9 1726.4 358.7 1727.4 358.7C1728.3 358.7 1729.1 355.5 1730 353.1C1730.8 350.6 1731.5 346.4 1732.4 344.1C1733.3 341.7 1734.3 340.3 1735.4 339.1C1736.5 337.8 1737.8 338.3 1738.8 336.7C1739.8 335 1740.5 331.2 1741.4 329.1C1742.3 326.9 1743.4 325.2 1744.4 324C1745.4 322.9 1746.9 322.4 1747.4 322" stroke="#ff0000" stroke-width="5.6" fill="none" stroke-linejoin="round" stroke-linecap="butt"/>
<path d="M1524.5 303.4C1525 304.4 1526.2 307.9 1527.1 309C1528.1 310.1 1529.1 310.3 1530.1 310C1531.1 309.8 1532.2 307.4 1533.2 307.4C1534.1 307.4 1535 308.1 1535.8 310C1536.5 312 1537.1 314.9 1537.8 319C1538.4 323.2 1539.1 329.4 1539.8 335.1C1540.4 340.7 1541 347.1 1541.8 353.1C1542.5 359.1 1543.3 365.1 1544.2 371.1C1545.1 377.1 1546.2 383.4 1547.2 389.1C1548.1 394.8 1548.9 400.5 1549.8 405.1C1550.6 409.8 1551.3 414.3 1552.2 417.2C1553.1 420 1554 421.3 1555.2 422.2C1556.3 423 1558 421.5 1559.2 422.2C1560.3 422.8 1561.2 424.3 1562.2 426.2C1563.2 428 1564.2 430.7 1565.2 433.2C1566.2 435.7 1567.3 438.2 1568.2 441.2C1569.1 444.2 1569.8 447.7 1570.6 451.2C1571.4 454.7 1572.3 459.4 1573.2 462.2C1574.1 465 1575.2 466.4 1576.2 468.2C1577.2 470 1578 471.6 1579.2 473.2C1580.4 474.8 1581.7 476.7 1583.2 477.6C1584.7 478.6 1586.8 479.1 1588.2 478.8C1589.7 478.6 1590.8 477.8 1591.8 476.2C1592.8 474.6 1593.5 472 1594.2 469.2C1595 466.4 1595.6 462.9 1596.2 459.2C1596.9 455.5 1597.5 450.2 1598.2 447.2C1599 444.2 1599.7 443 1600.6 441.2C1601.6 439.3 1602.7 438 1603.8 436.2C1604.9 434.3 1606.2 431.4 1607.2 430.2C1608.3 428.9 1609.2 429 1610.2 428.8C1611.2 428.5 1612.2 429.7 1613.2 428.8C1614.2 427.8 1615.2 424.8 1616.2 423.2C1617.2 421.5 1618.2 420.1 1619.3 418.8C1620.3 417.4 1621.4 416.6 1622.3 415.1C1623.2 413.7 1623.8 412.1 1624.7 410.1C1625.5 408.1 1626.3 404.8 1627.3 403.1C1628.2 401.5 1629.2 400.9 1630.3 400.1C1631.4 399.4 1632.9 399.6 1633.9 398.7C1634.9 397.9 1635.5 397.1 1636.3 395.1C1637.1 393.2 1637.8 389.1 1638.7 387.1C1639.5 385.1 1640.2 383.7 1641.3 383.1C1642.4 382.5 1644.1 383.7 1645.3 383.5C1646.4 383.3 1647.3 383 1648.3 382.1C1649.3 381.2 1650.4 379.8 1651.3 378.1C1652.2 376.4 1653.1 373.9 1653.9 372.1C1654.7 370.3 1655.5 368.2 1656.3 367.1C1657.1 366 1657.9 365.2 1658.7 365.5C1659.5 365.8 1660.4 368.2 1661.3 369.1C1662.2 370 1663.1 371.6 1663.9 371.1C1664.7 370.6 1665.4 368.1 1666.3 366.1C1667.2 364.1 1668.2 360.9 1669.3 359.1C1670.4 357.3 1671.5 356.5 1672.7 355.5C1673.9 354.5 1675 354.1 1676.3 353.1C1677.6 352 1679 350.5 1680.3 349.1C1681.7 347.7 1683 345.4 1684.3 344.7C1685.7 343.9 1687 344.9 1688.3 344.7C1689.7 344.5 1691.1 343.6 1692.3 343.5C1693.6 343.4 1694.8 343.3 1695.9 344.1C1697.1 344.8 1698.3 346.8 1699.3 348.1C1700.4 349.3 1701.4 351.1 1702.3 351.5C1703.2 351.8 1704 351.6 1704.7 350.1C1705.5 348.5 1706.1 344.9 1706.8 342.1C1707.4 339.2 1708 335.5 1708.8 333.1C1709.5 330.6 1710.4 328.5 1711.4 327.4C1712.3 326.4 1713.2 326.5 1714.4 326.6C1715.5 326.7 1717 327.9 1718.4 328C1719.7 328.2 1721.2 327.1 1722.4 327.4C1723.5 327.8 1724.4 328.9 1725.4 330.1C1726.4 331.3 1727.4 333.8 1728.4 334.7C1729.4 335.5 1730.4 335.7 1731.4 335.1C1732.4 334.4 1733.4 332.1 1734.4 330.7C1735.4 329.3 1736.4 327.4 1737.4 326.6C1738.4 325.9 1739.4 326 1740.4 326C1741.4 326 1742.4 327 1743.4 326.6C1744.4 326.3 1745.5 324.9 1746.4 324C1747.3 323.2 1748.4 321.9 1748.8 321.4" stroke="#0000ff" stroke-width="5.6" fill="none" stroke-linejoin="round" stroke-linecap="butt"/>
<text x="793" y="193.4" font-size="27.6" text-anchor="start" fill="#ed1c24" stroke="#ed1c24" >DSGC1</text>
<text x="793" y="224.5" font-size="27.6" text-anchor="start" fill="#0000ff" stroke="#0000ff" >DSGC2</text>
<path d="M903.9 348.1V453.2H959.8" stroke="#000" stroke-width="3.7" fill="none" stroke-linejoin="miter"/>
<text transform="translate(890.9 405.1) rotate(-90)" font-size="24.6" text-anchor="middle" stroke="#000">20 pA</text>
<text x="896.4" y="479" font-size="24.1" text-anchor="start" fill="#000" stroke="#000" >10 ms</text>
<g fill="none" stroke="#000" stroke-width="2.1"><circle cx="801.5" cy="712.1" r="6.5"/><circle cx="797.1" cy="736.5" r="6.5"/><circle cx="859.2" cy="734.1" r="6.5"/><circle cx="896.6" cy="744.1" r="6.5"/><circle cx="796.1" cy="752.5" r="6.5"/><circle cx="826.2" cy="754.1" r="6.5"/><circle cx="756.7" cy="763.6" r="6.5"/><circle cx="788.1" cy="765.6" r="6.5"/><circle cx="920.7" cy="761.6" r="6.5"/><circle cx="931.3" cy="761.6" r="6.5"/><circle cx="837.2" cy="772.6" r="6.5"/><circle cx="842.2" cy="781.8" r="6.5"/><circle cx="865.2" cy="777.6" r="6.5"/><circle cx="872.6" cy="779.2" r="6.5"/><circle cx="907.2" cy="777.8" r="6.5"/><circle cx="815.7" cy="783.8" r="6.5"/><circle cx="792.5" cy="785.8" r="6.5"/><circle cx="860.2" cy="787.2" r="6.5"/><circle cx="865.8" cy="785.8" r="6.5"/><circle cx="880.6" cy="785.8" r="6.5"/><circle cx="966.7" cy="784.6" r="6.5"/><circle cx="776.1" cy="799.6" r="6.5"/><circle cx="789.5" cy="799.6" r="6.5"/><circle cx="793.5" cy="800" r="6.5"/><circle cx="833.2" cy="799" r="6.5"/><circle cx="835.8" cy="804" r="6.5"/><circle cx="837.8" cy="794" r="6.5"/><circle cx="893.8" cy="796" r="6.5"/><circle cx="884.6" cy="799" r="6.5"/><circle cx="861.2" cy="807.6" r="6.5"/><circle cx="876.2" cy="806.4" r="6.5"/><circle cx="891.8" cy="810" r="6.5"/><circle cx="927.3" cy="810" r="6.5"/><circle cx="774.5" cy="813" r="6.5"/><circle cx="793.1" cy="813" r="6.5"/><circle cx="819.7" cy="815" r="6.5"/><circle cx="857.8" cy="818.6" r="6.5"/><circle cx="784.1" cy="818" r="6.5"/><circle cx="781.1" cy="822" r="6.5"/><circle cx="804.1" cy="822" r="6.5"/><circle cx="817.1" cy="819" r="6.5"/><circle cx="821.1" cy="822" r="6.5"/><circle cx="824.6" cy="823.6" r="6.5"/><circle cx="794.1" cy="825" r="6.5"/><circle cx="842.6" cy="826" r="6.5"/><circle cx="982.3" cy="830.4" r="6.5"/><circle cx="764.5" cy="834.1" r="6.5"/><circle cx="772.1" cy="834.1" r="6.5"/><circle cx="778.1" cy="829" r="6.5"/><circle cx="786.1" cy="827" r="6.5"/><circle cx="798.1" cy="830" r="6.5"/><circle cx="808.1" cy="832" r="6.5"/><circle cx="812.1" cy="830" r="6.5"/><circle cx="818.1" cy="832" r="6.5"/><circle cx="822.2" cy="833" r="6.5"/><circle cx="837.8" cy="831" r="6.5"/><circle cx="841.2" cy="833" r="6.5"/><circle cx="858.2" cy="837.7" r="6.5"/><circle cx="913.9" cy="837.7" r="6.5"/><circle cx="921.3" cy="842.1" r="6.5"/><circle cx="877.2" cy="841.7" r="6.5"/><circle cx="880.2" cy="844.5" r="6.5"/><circle cx="875.8" cy="848.1" r="6.5"/><circle cx="810.1" cy="838.1" r="6.5"/><circle cx="794.1" cy="836.1" r="6.5"/><circle cx="784.1" cy="838.1" r="6.5"/><circle cx="790.1" cy="843.1" r="6.5"/><circle cx="780.1" cy="847.1" r="6.5"/><circle cx="764.5" cy="849.7" r="6.5"/><circle cx="774.1" cy="850.1" r="6.5"/><circle cx="786.1" cy="848.1" r="6.5"/><circle cx="802.1" cy="847.1" r="6.5"/><circle cx="814.1" cy="846.1" r="6.5"/><circle cx="826.2" cy="844.1" r="6.5"/><circle cx="834.2" cy="848.1" r="6.5"/><circle cx="844.2" cy="842.1" r="6.5"/><circle cx="844.2" cy="854.1" r="6.5"/><circle cx="859.2" cy="850.1" r="6.5"/><circle cx="862.2" cy="847.1" r="6.5"/><circle cx="856.2" cy="852.1" r="6.5"/><circle cx="757.1" cy="860.1" r="6.5"/><circle cx="743.1" cy="865.1" r="6.5"/><circle cx="739.1" cy="867.7" r="6.5"/><circle cx="754.1" cy="869.1" r="6.5"/><circle cx="757.1" cy="872.1" r="6.5"/><circle cx="770.1" cy="866.1" r="6.5"/><circle cx="780.1" cy="858.1" r="6.5"/><circle cx="790.1" cy="856.1" r="6.5"/><circle cx="800.1" cy="860.1" r="6.5"/><circle cx="810.1" cy="854.1" r="6.5"/><circle cx="820.1" cy="858.1" r="6.5"/><circle cx="830.2" cy="856.1" r="6.5"/><circle cx="838.2" cy="858.1" r="6.5"/><circle cx="855.8" cy="865.1" r="6.5"/><circle cx="863.8" cy="874.5" r="6.5"/><circle cx="877.2" cy="874.1" r="6.5"/><circle cx="888.2" cy="868.5" r="6.5"/><circle cx="900.6" cy="869.5" r="6.5"/><circle cx="851.8" cy="879.7" r="6.5"/><circle cx="747.1" cy="882.5" r="6.5"/><circle cx="758.1" cy="878.1" r="6.5"/><circle cx="766.1" cy="882.1" r="6.5"/><circle cx="774.1" cy="876.1" r="6.5"/><circle cx="782.1" cy="874.1" r="6.5"/><circle cx="790.1" cy="878.1" r="6.5"/><circle cx="798.1" cy="876.1" r="6.5"/><circle cx="806.1" cy="870.1" r="6.5"/><circle cx="814.1" cy="868.1" r="6.5"/><circle cx="822.2" cy="870.1" r="6.5"/><circle cx="830.2" cy="872.1" r="6.5"/><circle cx="837.2" cy="871.1" r="6.5"/><circle cx="845.2" cy="885.1" r="6.5"/><circle cx="874.2" cy="887.5" r="6.5"/><circle cx="890.2" cy="881.7" r="6.5"/><circle cx="928.7" cy="887.5" r="6.5"/><circle cx="910.3" cy="895.1" r="6.5"/><circle cx="849.8" cy="894.5" r="6.5"/><circle cx="840.2" cy="898.1" r="6.5"/><circle cx="832.2" cy="904.1" r="6.5"/><circle cx="828.2" cy="894.1" r="6.5"/><circle cx="820.1" cy="890.1" r="6.5"/><circle cx="810.1" cy="886.1" r="6.5"/><circle cx="802.1" cy="890.1" r="6.5"/><circle cx="794.1" cy="886.1" r="6.5"/><circle cx="786.1" cy="890.1" r="6.5"/><circle cx="778.1" cy="888.1" r="6.5"/><circle cx="770.1" cy="890.1" r="6.5"/><circle cx="755.1" cy="899.1" r="6.5"/><circle cx="760.1" cy="904.1" r="6.5"/><circle cx="767.1" cy="904.1" r="6.5"/><circle cx="748.1" cy="908.1" r="6.5"/><circle cx="757.1" cy="911.1" r="6.5"/><circle cx="765.1" cy="914.1" r="6.5"/><circle cx="769.1" cy="916.1" r="6.5"/><circle cx="771.1" cy="916.1" r="6.5"/><circle cx="778.1" cy="902.1" r="6.5"/><circle cx="786.1" cy="902.1" r="6.5"/><circle cx="794.1" cy="900.1" r="6.5"/><circle cx="802.1" cy="902.1" r="6.5"/><circle cx="810.1" cy="900.1" r="6.5"/><circle cx="818.1" cy="898.1" r="6.5"/><circle cx="790.1" cy="910.1" r="6.5"/><circle cx="798.1" cy="910.1" r="6.5"/><circle cx="806.1" cy="916.1" r="6.5"/><circle cx="819.1" cy="916.1" r="6.5"/><circle cx="782.5" cy="921.1" r="6.5"/><circle cx="798.1" cy="920.1" r="6.5"/><circle cx="786.1" cy="914.1" r="6.5"/><circle cx="776.1" cy="912.1" r="6.5"/><circle cx="770.6" cy="873.2" r="6.5"/><circle cx="811.9" cy="899.9" r="6.5"/><circle cx="789.1" cy="897.5" r="6.5"/><circle cx="790.4" cy="893.8" r="6.5"/><circle cx="800.4" cy="913.6" r="6.5"/><circle cx="766.6" cy="866.5" r="6.5"/><circle cx="767.1" cy="867.9" r="6.5"/><circle cx="768.3" cy="849.1" r="6.5"/><circle cx="791.9" cy="854.4" r="6.5"/><circle cx="788" cy="903.7" r="6.5"/><circle cx="827.1" cy="865.8" r="6.5"/><circle cx="801.2" cy="892.1" r="6.5"/><circle cx="783.1" cy="868" r="6.5"/><circle cx="825.1" cy="875.5" r="6.5"/><circle cx="795" cy="830.7" r="6.5"/><circle cx="805.8" cy="863.9" r="6.5"/><circle cx="800.2" cy="906.4" r="6.5"/><circle cx="797.6" cy="914.8" r="6.5"/><circle cx="791.9" cy="852.6" r="6.5"/><circle cx="821.2" cy="901.8" r="6.5"/><circle cx="802.5" cy="866.9" r="6.5"/><circle cx="834.6" cy="880" r="6.5"/><circle cx="796.6" cy="872.2" r="6.5"/><circle cx="780.1" cy="877.1" r="6.5"/><circle cx="807.8" cy="869.8" r="6.5"/><circle cx="814.1" cy="835.6" r="6.5"/><circle cx="779.9" cy="834.4" r="6.5"/><circle cx="799" cy="843.4" r="6.5"/><circle cx="818.2" cy="869.5" r="6.5"/><circle cx="787.9" cy="845.2" r="6.5"/><circle cx="837.7" cy="874.5" r="6.5"/><circle cx="807.1" cy="902.5" r="6.5"/><circle cx="814.7" cy="877.7" r="6.5"/><circle cx="785.2" cy="880.5" r="6.5"/><circle cx="776" cy="906.3" r="6.5"/><circle cx="787.4" cy="851" r="6.5"/><circle cx="797" cy="862.5" r="6.5"/><circle cx="765.5" cy="889.5" r="6.5"/><circle cx="813.4" cy="855" r="6.5"/><circle cx="825.6" cy="858.9" r="6.5"/><circle cx="794.5" cy="917.8" r="6.5"/><circle cx="819.6" cy="835.8" r="6.5"/><circle cx="806.6" cy="904.7" r="6.5"/><circle cx="758.2" cy="878.3" r="6.5"/><circle cx="779.6" cy="884.1" r="6.5"/><circle cx="783.4" cy="880" r="6.5"/><circle cx="813.9" cy="836.4" r="6.5"/><circle cx="787.9" cy="838.6" r="6.5"/><circle cx="769.2" cy="895.8" r="6.5"/><circle cx="838.7" cy="854.8" r="6.5"/><circle cx="790.9" cy="856.6" r="6.5"/><circle cx="800.6" cy="890.7" r="6.5"/><circle cx="771" cy="877.4" r="6.5"/><circle cx="790.7" cy="887.4" r="6.5"/><circle cx="842" cy="863.6" r="6.5"/><circle cx="800.7" cy="880.8" r="6.5"/><circle cx="801.5" cy="834.5" r="6.5"/><circle cx="795.4" cy="906.6" r="6.5"/><circle cx="796.3" cy="900.5" r="6.5"/><circle cx="829.6" cy="857.2" r="6.5"/><circle cx="797.6" cy="911.8" r="6.5"/><circle cx="821.8" cy="890.9" r="6.5"/><circle cx="813.6" cy="851.1" r="6.5"/><circle cx="801.3" cy="877.4" r="6.5"/><circle cx="791.3" cy="864.1" r="6.5"/><circle cx="811.4" cy="866" r="6.5"/><circle cx="771" cy="903.6" r="6.5"/><circle cx="785.8" cy="883.8" r="6.5"/><circle cx="796.2" cy="887.2" r="6.5"/><circle cx="815.5" cy="894.7" r="6.5"/><circle cx="795.6" cy="871.7" r="6.5"/><circle cx="787" cy="879.1" r="6.5"/><circle cx="797.3" cy="908" r="6.5"/><circle cx="823.8" cy="908.5" r="6.5"/><circle cx="816.2" cy="905.4" r="6.5"/><circle cx="817.1" cy="895.1" r="6.5"/><circle cx="844" cy="880.1" r="6.5"/><circle cx="818.7" cy="859.7" r="6.5"/><circle cx="761.2" cy="894.5" r="6.5"/><circle cx="789.1" cy="843.1" r="6.5"/><circle cx="806.6" cy="865.2" r="6.5"/><circle cx="807.1" cy="904.1" r="6.5"/><circle cx="773.7" cy="877.5" r="6.5"/><circle cx="800.8" cy="872.8" r="6.5"/><circle cx="824.1" cy="880" r="6.5"/><circle cx="796.2" cy="880.2" r="6.5"/><circle cx="796.4" cy="860.6" r="6.5"/><circle cx="790.9" cy="855.8" r="6.5"/><circle cx="825.6" cy="890.3" r="6.5"/><circle cx="811.5" cy="862.4" r="6.5"/><circle cx="797.3" cy="918" r="6.5"/><circle cx="761.8" cy="884.5" r="6.5"/><circle cx="784.6" cy="866.8" r="6.5"/><circle cx="821.7" cy="886.4" r="6.5"/><circle cx="809.6" cy="865.1" r="6.5"/><circle cx="807.1" cy="859.9" r="6.5"/><circle cx="817.8" cy="907.7" r="6.5"/><circle cx="821.6" cy="866.5" r="6.5"/><circle cx="785.9" cy="890.8" r="6.5"/><circle cx="798.5" cy="861.6" r="6.5"/><circle cx="818.3" cy="902.3" r="6.5"/><circle cx="817.6" cy="904.9" r="6.5"/><circle cx="837.7" cy="884.8" r="6.5"/><circle cx="789" cy="897.4" r="6.5"/><circle cx="763.8" cy="885.1" r="6.5"/><circle cx="819.9" cy="883.3" r="6.5"/><circle cx="798.9" cy="840.7" r="6.5"/><circle cx="795.3" cy="837.2" r="6.5"/><circle cx="756.4" cy="891.1" r="6.5"/><circle cx="785.7" cy="873.1" r="6.5"/><circle cx="792.2" cy="880.9" r="6.5"/><circle cx="833.4" cy="857.2" r="6.5"/><circle cx="804.5" cy="911.8" r="6.5"/><circle cx="835.7" cy="897.2" r="6.5"/><circle cx="759.2" cy="888.6" r="6.5"/></g>
<path d="M731.9 647V947.1" stroke="#000" stroke-width="4.2" fill="none"/>
<path d="M720.9 936.7H1025.4" stroke="#000" stroke-width="4" fill="none"/>
<path d="M720.9 853.8H731.9" stroke="#000" stroke-width="4"/>
<path d="M720.9 770.9H731.9" stroke="#000" stroke-width="4"/>
<path d="M720.9 688H731.9" stroke="#000" stroke-width="4"/>
<path d="M815.7 936.7V947.1" stroke="#000" stroke-width="4.2"/>
<path d="M899.5 936.7V947.1" stroke="#000" stroke-width="4.2"/>
<path d="M983.3 936.7V947.1" stroke="#000" stroke-width="4.2"/>
<text x="710.9" y="946.3" font-size="24.6" text-anchor="end" fill="#000" stroke="#000" >-2</text>
<text x="710.9" y="863.4" font-size="24.6" text-anchor="end" fill="#000" stroke="#000" >0</text>
<text x="710.9" y="780.5" font-size="24.6" text-anchor="end" fill="#000" stroke="#000" >2</text>
<text x="710.9" y="697.6" font-size="24.6" text-anchor="end" fill="#000" stroke="#000" >4</text>
<text x="730.1" y="978.4" font-size="24.6" text-anchor="middle" fill="#000" stroke="#000" >-2</text>
<text x="815.2" y="978.4" font-size="24.6" text-anchor="middle" fill="#000" stroke="#000" >0</text>
<text x="899" y="978.4" font-size="24.6" text-anchor="middle" fill="#000" stroke="#000" >2</text>
<text x="982.8" y="978.4" font-size="24.6" text-anchor="middle" fill="#000" stroke="#000" >4</text>
<text x="792.5" y="616.8" font-size="35.2" text-anchor="start" fill="#000" stroke="#000" >Amplitude</text>
<text x="760.2" y="681.4" font-size="28" stroke="#000"><tspan font-style="italic">r</tspan> = 0.35</text>
<text x="855.8" y="677.8" font-size="41.5" text-anchor="start" fill="#000" stroke="#000" >**</text>
<path d="M739.7 880.1L982.3 795.6" stroke="#ff0000" stroke-width="4.3"/>
<g fill="none" stroke="#000" stroke-width="2.1"><circle cx="1299.9" cy="661.4" r="6.5"/><circle cx="1363.4" cy="665" r="6.5"/><circle cx="1299.9" cy="703.1" r="6.5"/><circle cx="1164.1" cy="740.1" r="6.5"/><circle cx="1190.2" cy="754.5" r="6.5"/><circle cx="1262.6" cy="758.1" r="6.5"/><circle cx="1290.3" cy="756.1" r="6.5"/><circle cx="1140.7" cy="766.2" r="6.5"/><circle cx="1201.6" cy="765.2" r="6.5"/><circle cx="1219.8" cy="770.8" r="6.5"/><circle cx="1249.6" cy="771.6" r="6.5"/><circle cx="1150.7" cy="779.2" r="6.5"/><circle cx="1193.2" cy="780.6" r="6.5"/><circle cx="1189.6" cy="784.2" r="6.5"/><circle cx="1237.2" cy="781.2" r="6.5"/><circle cx="1281.7" cy="783.2" r="6.5"/><circle cx="1156.1" cy="786.2" r="6.5"/><circle cx="1194.2" cy="790" r="6.5"/><circle cx="1209.2" cy="792.4" r="6.5"/><circle cx="1148.1" cy="793.4" r="6.5"/><circle cx="1203.2" cy="797" r="6.5"/><circle cx="1236.8" cy="797.4" r="6.5"/><circle cx="1269.3" cy="796.4" r="6.5"/><circle cx="1307.3" cy="798.4" r="6.5"/><circle cx="1272.3" cy="804" r="6.5"/><circle cx="1188.8" cy="802" r="6.5"/><circle cx="1195.8" cy="804" r="6.5"/><circle cx="1126.1" cy="813.4" r="6.5"/><circle cx="1147.1" cy="806.4" r="6.5"/><circle cx="1155.7" cy="803.6" r="6.5"/><circle cx="1162.1" cy="813" r="6.5"/><circle cx="1256.6" cy="815.6" r="6.5"/><circle cx="1175.1" cy="818" r="6.5"/><circle cx="1188.2" cy="819" r="6.5"/><circle cx="1205.2" cy="806" r="6.5"/><circle cx="1208.2" cy="808" r="6.5"/><circle cx="1201.2" cy="809" r="6.5"/><circle cx="1216.2" cy="810" r="6.5"/><circle cx="1212.2" cy="812.4" r="6.5"/><circle cx="1199.2" cy="813" r="6.5"/><circle cx="1256.8" cy="828.4" r="6.5"/><circle cx="1321.9" cy="827.4" r="6.5"/><circle cx="1229.8" cy="828.4" r="6.5"/><circle cx="1212.2" cy="830" r="6.5"/><circle cx="1218.2" cy="831" r="6.5"/><circle cx="1170.1" cy="824" r="6.5"/><circle cx="1179.1" cy="826" r="6.5"/><circle cx="1198.2" cy="827" r="6.5"/><circle cx="1158.1" cy="832" r="6.5"/><circle cx="1165.1" cy="833" r="6.5"/><circle cx="1148.1" cy="834.1" r="6.5"/><circle cx="1154.1" cy="834.1" r="6.5"/><circle cx="1180.1" cy="833" r="6.5"/><circle cx="1139.1" cy="840.1" r="6.5"/><circle cx="1144.1" cy="844.1" r="6.5"/><circle cx="1162.1" cy="840.1" r="6.5"/><circle cx="1170.1" cy="842.1" r="6.5"/><circle cx="1178.1" cy="838.1" r="6.5"/><circle cx="1190.2" cy="840.1" r="6.5"/><circle cx="1204.2" cy="838.1" r="6.5"/><circle cx="1119.7" cy="852.1" r="6.5"/><circle cx="1129.1" cy="853.1" r="6.5"/><circle cx="1222.6" cy="850.1" r="6.5"/><circle cx="1236.2" cy="852.1" r="6.5"/><circle cx="1244.2" cy="853.7" r="6.5"/><circle cx="1252.2" cy="863.7" r="6.5"/><circle cx="1292.7" cy="856.5" r="6.5"/><circle cx="1208.2" cy="860.1" r="6.5"/><circle cx="1200.2" cy="852.1" r="6.5"/><circle cx="1194.2" cy="850.1" r="6.5"/><circle cx="1218.2" cy="875.1" r="6.5"/><circle cx="1209.2" cy="877.1" r="6.5"/><circle cx="1215.2" cy="880.1" r="6.5"/><circle cx="1112.1" cy="882.1" r="6.5"/><circle cx="1122.1" cy="870.1" r="6.5"/><circle cx="1118.1" cy="878.1" r="6.5"/><circle cx="1104.5" cy="900.5" r="6.5"/><circle cx="1116.1" cy="898.1" r="6.5"/><circle cx="1120.1" cy="895.1" r="6.5"/><circle cx="1116.7" cy="913.7" r="6.5"/><circle cx="1135.5" cy="921.1" r="6.5"/><circle cx="1148.1" cy="915.1" r="6.5"/><circle cx="1156.1" cy="910.1" r="6.5"/><circle cx="1182.2" cy="914.1" r="6.5"/><circle cx="1201.8" cy="896.5" r="6.5"/><circle cx="1192.6" cy="890.1" r="6.5"/><circle cx="1180.1" cy="900.1" r="6.5"/><circle cx="1170.1" cy="896.1" r="6.5"/><circle cx="1162.1" cy="902.1" r="6.5"/><circle cx="1154.1" cy="906.1" r="6.5"/><circle cx="1144.1" cy="910.1" r="6.5"/><circle cx="1134.1" cy="908.1" r="6.5"/><circle cx="1128.1" cy="904.1" r="6.5"/><circle cx="1139.3" cy="880.7" r="6.5"/><circle cx="1163.5" cy="876.1" r="6.5"/><circle cx="1189.8" cy="899.1" r="6.5"/><circle cx="1156.3" cy="873.1" r="6.5"/><circle cx="1156.3" cy="876.9" r="6.5"/><circle cx="1185.5" cy="868.8" r="6.5"/><circle cx="1141.1" cy="890.1" r="6.5"/><circle cx="1161.1" cy="871.9" r="6.5"/><circle cx="1170.4" cy="851.3" r="6.5"/><circle cx="1111.6" cy="885.4" r="6.5"/><circle cx="1130.2" cy="907.7" r="6.5"/><circle cx="1163.1" cy="905.5" r="6.5"/><circle cx="1124.2" cy="887.4" r="6.5"/><circle cx="1195.4" cy="835.8" r="6.5"/><circle cx="1181.9" cy="858.6" r="6.5"/><circle cx="1173.4" cy="894.4" r="6.5"/><circle cx="1130.1" cy="886.2" r="6.5"/><circle cx="1148.7" cy="871.6" r="6.5"/><circle cx="1167.1" cy="834.1" r="6.5"/><circle cx="1132.9" cy="879.2" r="6.5"/><circle cx="1194" cy="891.1" r="6.5"/><circle cx="1152.1" cy="872.7" r="6.5"/><circle cx="1117.4" cy="892.5" r="6.5"/><circle cx="1162.9" cy="866.5" r="6.5"/><circle cx="1153.3" cy="871.2" r="6.5"/><circle cx="1163.4" cy="838.2" r="6.5"/><circle cx="1207.5" cy="881.2" r="6.5"/><circle cx="1198.5" cy="887.4" r="6.5"/><circle cx="1155.2" cy="861.1" r="6.5"/><circle cx="1128.2" cy="879" r="6.5"/><circle cx="1113.6" cy="895.6" r="6.5"/><circle cx="1168.6" cy="859.3" r="6.5"/><circle cx="1188.8" cy="859.6" r="6.5"/><circle cx="1144.8" cy="865.8" r="6.5"/><circle cx="1134.9" cy="872.7" r="6.5"/><circle cx="1138" cy="843.2" r="6.5"/><circle cx="1133.9" cy="862.8" r="6.5"/><circle cx="1177.1" cy="832.9" r="6.5"/><circle cx="1153.8" cy="872.5" r="6.5"/><circle cx="1156.3" cy="890.4" r="6.5"/><circle cx="1158.7" cy="860.6" r="6.5"/><circle cx="1177.3" cy="901.7" r="6.5"/><circle cx="1126.3" cy="900.5" r="6.5"/><circle cx="1173.1" cy="863.5" r="6.5"/><circle cx="1168" cy="866.8" r="6.5"/><circle cx="1159" cy="887.6" r="6.5"/><circle cx="1134.7" cy="870.4" r="6.5"/><circle cx="1113.9" cy="895.5" r="6.5"/><circle cx="1188.4" cy="898.6" r="6.5"/><circle cx="1147.5" cy="866.6" r="6.5"/><circle cx="1164.8" cy="858.3" r="6.5"/><circle cx="1158.8" cy="874" r="6.5"/><circle cx="1148.7" cy="904.2" r="6.5"/><circle cx="1175.4" cy="859.2" r="6.5"/><circle cx="1174.9" cy="850.9" r="6.5"/><circle cx="1155.9" cy="843.3" r="6.5"/><circle cx="1147.2" cy="856.5" r="6.5"/><circle cx="1123.6" cy="864.3" r="6.5"/><circle cx="1180.5" cy="857.5" r="6.5"/><circle cx="1179.6" cy="856.8" r="6.5"/><circle cx="1158" cy="909.5" r="6.5"/><circle cx="1211.8" cy="832.8" r="6.5"/><circle cx="1153.6" cy="874.4" r="6.5"/><circle cx="1197.7" cy="859.1" r="6.5"/><circle cx="1175.9" cy="835.1" r="6.5"/><circle cx="1151.8" cy="845.1" r="6.5"/><circle cx="1142.5" cy="857.4" r="6.5"/><circle cx="1148.7" cy="867.5" r="6.5"/><circle cx="1155.6" cy="861.3" r="6.5"/><circle cx="1193.7" cy="820.9" r="6.5"/><circle cx="1144" cy="837.4" r="6.5"/><circle cx="1131.9" cy="868.2" r="6.5"/><circle cx="1120.5" cy="870.3" r="6.5"/><circle cx="1120.6" cy="869.3" r="6.5"/><circle cx="1195.9" cy="882.8" r="6.5"/><circle cx="1147" cy="849.8" r="6.5"/><circle cx="1152.6" cy="859.9" r="6.5"/><circle cx="1195.2" cy="876.3" r="6.5"/><circle cx="1169.5" cy="884.6" r="6.5"/><circle cx="1187.5" cy="890.4" r="6.5"/><circle cx="1197.9" cy="879.9" r="6.5"/><circle cx="1175.7" cy="874.5" r="6.5"/><circle cx="1205" cy="866.5" r="6.5"/><circle cx="1150.9" cy="861.6" r="6.5"/><circle cx="1155.7" cy="886" r="6.5"/><circle cx="1128.9" cy="853.4" r="6.5"/><circle cx="1148.7" cy="872.6" r="6.5"/><circle cx="1192.4" cy="864.9" r="6.5"/><circle cx="1143.5" cy="867.4" r="6.5"/><circle cx="1126.3" cy="867.7" r="6.5"/><circle cx="1157.2" cy="877.4" r="6.5"/><circle cx="1129.8" cy="881.7" r="6.5"/><circle cx="1203.4" cy="888.3" r="6.5"/><circle cx="1128.1" cy="903.8" r="6.5"/><circle cx="1127.1" cy="851.4" r="6.5"/><circle cx="1133.5" cy="892.5" r="6.5"/><circle cx="1154" cy="862" r="6.5"/><circle cx="1172.5" cy="857.6" r="6.5"/><circle cx="1170.8" cy="890.3" r="6.5"/><circle cx="1111.9" cy="886.7" r="6.5"/><circle cx="1174.1" cy="859.2" r="6.5"/><circle cx="1157.8" cy="858.1" r="6.5"/><circle cx="1149.7" cy="871.6" r="6.5"/><circle cx="1161.8" cy="872.1" r="6.5"/><circle cx="1169.6" cy="890.6" r="6.5"/><circle cx="1158.2" cy="833" r="6.5"/><circle cx="1140.8" cy="873.9" r="6.5"/><circle cx="1116.4" cy="875.9" r="6.5"/><circle cx="1179.5" cy="863.8" r="6.5"/><circle cx="1139.6" cy="886.2" r="6.5"/><circle cx="1207.6" cy="880.7" r="6.5"/><circle cx="1172.8" cy="863.6" r="6.5"/><circle cx="1192.9" cy="836.3" r="6.5"/><circle cx="1197" cy="887.4" r="6.5"/><circle cx="1149.8" cy="911.1" r="6.5"/><circle cx="1171.4" cy="826.8" r="6.5"/><circle cx="1150.1" cy="870.1" r="6.5"/><circle cx="1168.6" cy="871.7" r="6.5"/><circle cx="1168.4" cy="845.1" r="6.5"/><circle cx="1156.7" cy="862.4" r="6.5"/><circle cx="1196.3" cy="882.3" r="6.5"/><circle cx="1165.9" cy="877" r="6.5"/><circle cx="1132.5" cy="891.3" r="6.5"/><circle cx="1166.9" cy="873.6" r="6.5"/><circle cx="1151.7" cy="870.6" r="6.5"/><circle cx="1148.5" cy="881.7" r="6.5"/><circle cx="1178.9" cy="885" r="6.5"/><circle cx="1168.4" cy="860.6" r="6.5"/><circle cx="1179.6" cy="886.9" r="6.5"/><circle cx="1145.3" cy="880.6" r="6.5"/><circle cx="1124.9" cy="903.5" r="6.5"/><circle cx="1114" cy="880.1" r="6.5"/><circle cx="1207.2" cy="864.6" r="6.5"/><circle cx="1159.9" cy="891.5" r="6.5"/><circle cx="1176.1" cy="877.6" r="6.5"/><circle cx="1173.1" cy="836.6" r="6.5"/><circle cx="1156.8" cy="848" r="6.5"/><circle cx="1195.2" cy="892.3" r="6.5"/><circle cx="1170.3" cy="871.2" r="6.5"/><circle cx="1150.2" cy="867.4" r="6.5"/><circle cx="1114.4" cy="898" r="6.5"/><circle cx="1138.9" cy="877.2" r="6.5"/><circle cx="1155.5" cy="916.2" r="6.5"/><circle cx="1121.5" cy="868.5" r="6.5"/><circle cx="1119" cy="878.8" r="6.5"/><circle cx="1142.6" cy="898.5" r="6.5"/><circle cx="1130.4" cy="882" r="6.5"/><circle cx="1122.3" cy="912.3" r="6.5"/><circle cx="1158.5" cy="849.6" r="6.5"/><circle cx="1144.2" cy="904.7" r="6.5"/></g>
<path d="M1090.6 648.4V946.1" stroke="#000" stroke-width="4.2" fill="none"/>
<path d="M1079.6 935.7H1380.8" stroke="#000" stroke-width="4" fill="none"/>
<path d="M1079.6 853.6H1090.6" stroke="#000" stroke-width="4"/>
<path d="M1079.6 771.5H1090.6" stroke="#000" stroke-width="4"/>
<path d="M1079.6 689.4H1090.6" stroke="#000" stroke-width="4"/>
<path d="M1173.5 935.7V946.1" stroke="#000" stroke-width="4.2"/>
<path d="M1256.4 935.7V946.1" stroke="#000" stroke-width="4.2"/>
<path d="M1339.3 935.7V946.1" stroke="#000" stroke-width="4.2"/>
<text x="1068.6" y="941.7" font-size="24.6" text-anchor="end" fill="#000" stroke="#000" >-2</text>
<text x="1068.6" y="859.6" font-size="24.6" text-anchor="end" fill="#000" stroke="#000" >0</text>
<text x="1068.6" y="777.5" font-size="24.6" text-anchor="end" fill="#000" stroke="#000" >2</text>
<text x="1068.6" y="695.4" font-size="24.6" text-anchor="end" fill="#000" stroke="#000" >4</text>
<text x="1088.8" y="978.4" font-size="24.6" text-anchor="middle" fill="#000" stroke="#000" >-2</text>
<text x="1173" y="978.4" font-size="24.6" text-anchor="middle" fill="#000" stroke="#000" >0</text>
<text x="1255.9" y="978.4" font-size="24.6" text-anchor="middle" fill="#000" stroke="#000" >2</text>
<text x="1338.8" y="978.4" font-size="24.6" text-anchor="middle" fill="#000" stroke="#000" >4</text>
<text x="1172.2" y="616.8" font-size="35.2" text-anchor="start" fill="#000" stroke="#000" >Decay</text>
<text x="1108.2" y="676.3" font-size="28" stroke="#000"><tspan font-style="italic">r</tspan> = 0.61</text>
<text x="1205.5" y="673.8" font-size="41.5" text-anchor="start" fill="#000" stroke="#000" >***</text>
<path d="M1105.7 895.1L1363.4 738.1" stroke="#ff0000" stroke-width="4.3"/>
<text x="1257.4" y="918.8" font-size="28.9" text-anchor="start" fill="#000" stroke="#000" >(n = 6)</text>
<g fill="none" stroke="#000" stroke-width="2.1"><circle cx="1651.7" cy="672.6" r="6.5"/><circle cx="1487.5" cy="706.5" r="6.5"/><circle cx="1639.3" cy="722.1" r="6.5"/><circle cx="1584.6" cy="735.5" r="6.5"/><circle cx="1593.6" cy="745.5" r="6.5"/><circle cx="1503.7" cy="749.7" r="6.5"/><circle cx="1725.4" cy="751.5" r="6.5"/><circle cx="1654.7" cy="757.1" r="6.5"/><circle cx="1493.5" cy="759.1" r="6.5"/><circle cx="1511.5" cy="758.5" r="6.5"/><circle cx="1520.1" cy="760.5" r="6.5"/><circle cx="1517.5" cy="766.6" r="6.5"/><circle cx="1513.1" cy="767.8" r="6.5"/><circle cx="1503.5" cy="772.6" r="6.5"/><circle cx="1511.5" cy="781.2" r="6.5"/><circle cx="1617.6" cy="780.2" r="6.5"/><circle cx="1538.8" cy="785.6" r="6.5"/><circle cx="1525.1" cy="788.2" r="6.5"/><circle cx="1530.1" cy="790.2" r="6.5"/><circle cx="1516.1" cy="791.2" r="6.5"/><circle cx="1547.2" cy="791.8" r="6.5"/><circle cx="1601.6" cy="790.8" r="6.5"/><circle cx="1574.2" cy="793.8" r="6.5"/><circle cx="1480.1" cy="798" r="6.5"/><circle cx="1499.5" cy="795.6" r="6.5"/><circle cx="1515.1" cy="796" r="6.5"/><circle cx="1563.2" cy="800.6" r="6.5"/><circle cx="1598.2" cy="801" r="6.5"/><circle cx="1516.1" cy="801" r="6.5"/><circle cx="1634.7" cy="804.6" r="6.5"/><circle cx="1532.2" cy="806" r="6.5"/><circle cx="1577.2" cy="808" r="6.5"/><circle cx="1548.2" cy="809" r="6.5"/><circle cx="1562.2" cy="810" r="6.5"/><circle cx="1529.1" cy="808" r="6.5"/><circle cx="1515.7" cy="814" r="6.5"/><circle cx="1480.1" cy="826" r="6.5"/><circle cx="1504.1" cy="825.6" r="6.5"/><circle cx="1509.1" cy="825" r="6.5"/><circle cx="1513.1" cy="824" r="6.5"/><circle cx="1534.2" cy="825" r="6.5"/><circle cx="1548.2" cy="828" r="6.5"/><circle cx="1576.2" cy="825" r="6.5"/><circle cx="1582.2" cy="822" r="6.5"/><circle cx="1591.2" cy="821" r="6.5"/><circle cx="1593.2" cy="827" r="6.5"/><circle cx="1603.8" cy="823.6" r="6.5"/><circle cx="1586.2" cy="832" r="6.5"/><circle cx="1609.6" cy="832" r="6.5"/><circle cx="1574.2" cy="830" r="6.5"/><circle cx="1483.1" cy="833.6" r="6.5"/><circle cx="1553.2" cy="834.1" r="6.5"/><circle cx="1467.1" cy="839.7" r="6.5"/><circle cx="1537.2" cy="837.1" r="6.5"/><circle cx="1512.1" cy="837.1" r="6.5"/><circle cx="1520.1" cy="840.1" r="6.5"/><circle cx="1536.2" cy="841.1" r="6.5"/><circle cx="1577.2" cy="843.1" r="6.5"/><circle cx="1544.2" cy="848.1" r="6.5"/><circle cx="1560.2" cy="851.1" r="6.5"/><circle cx="1564.2" cy="853.1" r="6.5"/><circle cx="1570.2" cy="854.1" r="6.5"/><circle cx="1582.2" cy="855.1" r="6.5"/><circle cx="1588.2" cy="857.1" r="6.5"/><circle cx="1601.8" cy="855.1" r="6.5"/><circle cx="1592.2" cy="863.7" r="6.5"/><circle cx="1621.9" cy="866.1" r="6.5"/><circle cx="1622.3" cy="876.1" r="6.5"/><circle cx="1580.2" cy="867.1" r="6.5"/><circle cx="1570.2" cy="868.1" r="6.5"/><circle cx="1550.2" cy="861.1" r="6.5"/><circle cx="1548.2" cy="867.1" r="6.5"/><circle cx="1552.2" cy="872.1" r="6.5"/><circle cx="1566.2" cy="865.1" r="6.5"/><circle cx="1572.2" cy="874.1" r="6.5"/><circle cx="1581.2" cy="881.1" r="6.5"/><circle cx="1577.2" cy="879.7" r="6.5"/><circle cx="1562.2" cy="884.5" r="6.5"/><circle cx="1567.2" cy="884.5" r="6.5"/><circle cx="1591.6" cy="894.5" r="6.5"/><circle cx="1647.3" cy="895.1" r="6.5"/><circle cx="1623.7" cy="907.7" r="6.5"/><circle cx="1563.8" cy="915.7" r="6.5"/><circle cx="1564.2" cy="902.5" r="6.5"/><circle cx="1561.8" cy="898.1" r="6.5"/><circle cx="1550.2" cy="894.1" r="6.5"/><circle cx="1530.1" cy="905.1" r="6.5"/><circle cx="1522.1" cy="903.1" r="6.5"/><circle cx="1512.1" cy="899.1" r="6.5"/><circle cx="1496.5" cy="911.7" r="6.5"/><circle cx="1484.5" cy="908.5" r="6.5"/><circle cx="1470.5" cy="899.7" r="6.5"/><circle cx="1474.1" cy="894.1" r="6.5"/><circle cx="1462.1" cy="887.1" r="6.5"/><circle cx="1464.1" cy="878.1" r="6.5"/><circle cx="1467.1" cy="884.1" r="6.5"/><circle cx="1481.6" cy="877.8" r="6.5"/><circle cx="1519.3" cy="883.8" r="6.5"/><circle cx="1505.6" cy="899.2" r="6.5"/><circle cx="1518" cy="860.1" r="6.5"/><circle cx="1497.8" cy="896.6" r="6.5"/><circle cx="1479.4" cy="908.6" r="6.5"/><circle cx="1521.7" cy="860.1" r="6.5"/><circle cx="1496.9" cy="863.7" r="6.5"/><circle cx="1478.8" cy="898.8" r="6.5"/><circle cx="1539.6" cy="868.1" r="6.5"/><circle cx="1461.6" cy="883" r="6.5"/><circle cx="1499.1" cy="882.7" r="6.5"/><circle cx="1496" cy="871.7" r="6.5"/><circle cx="1523.5" cy="881.6" r="6.5"/><circle cx="1521" cy="906.8" r="6.5"/><circle cx="1501.5" cy="890.7" r="6.5"/><circle cx="1513.6" cy="838.9" r="6.5"/><circle cx="1505.1" cy="887.7" r="6.5"/><circle cx="1530" cy="892" r="6.5"/><circle cx="1483" cy="871.4" r="6.5"/><circle cx="1490.1" cy="864.7" r="6.5"/><circle cx="1495.1" cy="881.6" r="6.5"/><circle cx="1496" cy="894.5" r="6.5"/><circle cx="1515.8" cy="891.8" r="6.5"/><circle cx="1480" cy="896.8" r="6.5"/><circle cx="1476.4" cy="869.9" r="6.5"/><circle cx="1467.6" cy="861.6" r="6.5"/><circle cx="1474.5" cy="862.7" r="6.5"/><circle cx="1548.3" cy="871" r="6.5"/><circle cx="1469.5" cy="876.8" r="6.5"/><circle cx="1540.3" cy="899.3" r="6.5"/><circle cx="1485.8" cy="897" r="6.5"/><circle cx="1540.2" cy="863.3" r="6.5"/><circle cx="1487.2" cy="896.1" r="6.5"/><circle cx="1492.8" cy="868.5" r="6.5"/><circle cx="1499.3" cy="905.3" r="6.5"/><circle cx="1525.4" cy="876" r="6.5"/><circle cx="1492.2" cy="854.7" r="6.5"/><circle cx="1533.9" cy="850.6" r="6.5"/><circle cx="1525.4" cy="876.4" r="6.5"/><circle cx="1553.9" cy="882.8" r="6.5"/><circle cx="1483.1" cy="901" r="6.5"/><circle cx="1537.7" cy="863.8" r="6.5"/><circle cx="1512.2" cy="897.8" r="6.5"/><circle cx="1540.2" cy="898.2" r="6.5"/><circle cx="1521.9" cy="901.1" r="6.5"/><circle cx="1485.1" cy="857.7" r="6.5"/><circle cx="1500.7" cy="872.6" r="6.5"/><circle cx="1508.8" cy="861.1" r="6.5"/><circle cx="1493.3" cy="885.3" r="6.5"/><circle cx="1494.3" cy="852" r="6.5"/><circle cx="1469.8" cy="878.7" r="6.5"/><circle cx="1496.3" cy="843.9" r="6.5"/><circle cx="1495.6" cy="882.2" r="6.5"/><circle cx="1496.3" cy="896.6" r="6.5"/><circle cx="1501.6" cy="865.3" r="6.5"/><circle cx="1529.5" cy="868.8" r="6.5"/><circle cx="1504.6" cy="856" r="6.5"/><circle cx="1528.7" cy="843.3" r="6.5"/><circle cx="1484.1" cy="872" r="6.5"/><circle cx="1547.9" cy="851.1" r="6.5"/><circle cx="1460.8" cy="894.1" r="6.5"/><circle cx="1490.5" cy="879.3" r="6.5"/><circle cx="1482" cy="851.2" r="6.5"/><circle cx="1520.6" cy="893.1" r="6.5"/><circle cx="1495" cy="867" r="6.5"/><circle cx="1500.2" cy="844.1" r="6.5"/><circle cx="1526.6" cy="875.8" r="6.5"/><circle cx="1523.4" cy="903.6" r="6.5"/><circle cx="1510.4" cy="870.4" r="6.5"/><circle cx="1476.3" cy="857.6" r="6.5"/><circle cx="1517.5" cy="861.1" r="6.5"/><circle cx="1487.6" cy="889.6" r="6.5"/><circle cx="1545.1" cy="880.8" r="6.5"/><circle cx="1506.5" cy="866" r="6.5"/><circle cx="1494.2" cy="861.6" r="6.5"/><circle cx="1506.5" cy="881.8" r="6.5"/><circle cx="1506.7" cy="890.7" r="6.5"/><circle cx="1505.3" cy="854.8" r="6.5"/><circle cx="1545.1" cy="855.7" r="6.5"/><circle cx="1483.4" cy="901.3" r="6.5"/><circle cx="1500.7" cy="891.3" r="6.5"/><circle cx="1466.6" cy="899" r="6.5"/><circle cx="1493.8" cy="880.5" r="6.5"/><circle cx="1502" cy="873.6" r="6.5"/><circle cx="1497.4" cy="877.8" r="6.5"/><circle cx="1485.4" cy="886.7" r="6.5"/><circle cx="1495.7" cy="894.5" r="6.5"/><circle cx="1487.5" cy="887.5" r="6.5"/><circle cx="1512.4" cy="846.3" r="6.5"/><circle cx="1493.4" cy="890.5" r="6.5"/><circle cx="1515.5" cy="851.4" r="6.5"/><circle cx="1518.7" cy="878.6" r="6.5"/><circle cx="1504.3" cy="860.9" r="6.5"/><circle cx="1513.1" cy="892.1" r="6.5"/><circle cx="1484.5" cy="866.1" r="6.5"/><circle cx="1461.4" cy="874.9" r="6.5"/><circle cx="1536.4" cy="863.9" r="6.5"/><circle cx="1498.7" cy="877.6" r="6.5"/><circle cx="1493.5" cy="899.9" r="6.5"/><circle cx="1485" cy="845.3" r="6.5"/><circle cx="1537.4" cy="891.2" r="6.5"/><circle cx="1476.6" cy="868.5" r="6.5"/><circle cx="1472.2" cy="867.2" r="6.5"/><circle cx="1511.5" cy="879.6" r="6.5"/><circle cx="1482.9" cy="895.2" r="6.5"/><circle cx="1507" cy="882" r="6.5"/><circle cx="1525.3" cy="874" r="6.5"/><circle cx="1504.6" cy="852.2" r="6.5"/><circle cx="1502.9" cy="879.4" r="6.5"/><circle cx="1538.8" cy="883.6" r="6.5"/><circle cx="1494.2" cy="855.1" r="6.5"/><circle cx="1512.6" cy="906" r="6.5"/><circle cx="1546.8" cy="888.8" r="6.5"/><circle cx="1530.9" cy="892.1" r="6.5"/><circle cx="1507.1" cy="846" r="6.5"/><circle cx="1473.6" cy="874.4" r="6.5"/><circle cx="1512.5" cy="868.9" r="6.5"/><circle cx="1488.5" cy="872" r="6.5"/><circle cx="1531.3" cy="864.9" r="6.5"/><circle cx="1511.6" cy="881.6" r="6.5"/><circle cx="1537.8" cy="848.5" r="6.5"/><circle cx="1477.2" cy="853.4" r="6.5"/><circle cx="1498.7" cy="850.4" r="6.5"/><circle cx="1507.6" cy="842.4" r="6.5"/><circle cx="1503.3" cy="867.9" r="6.5"/><circle cx="1462.3" cy="867.5" r="6.5"/><circle cx="1479.6" cy="844.9" r="6.5"/><circle cx="1474.1" cy="883.5" r="6.5"/><circle cx="1505.1" cy="906.2" r="6.5"/><circle cx="1521.9" cy="863.2" r="6.5"/><circle cx="1497.3" cy="862.5" r="6.5"/><circle cx="1514.1" cy="905.5" r="6.5"/><circle cx="1506.6" cy="857.7" r="6.5"/><circle cx="1531.4" cy="882.3" r="6.5"/><circle cx="1497" cy="873.7" r="6.5"/><circle cx="1505.2" cy="893.5" r="6.5"/><circle cx="1532.6" cy="862.4" r="6.5"/><circle cx="1467.9" cy="879.6" r="6.5"/><circle cx="1465.4" cy="885.5" r="6.5"/><circle cx="1523.5" cy="880.8" r="6.5"/><circle cx="1480.8" cy="908.7" r="6.5"/><circle cx="1515.1" cy="868.7" r="6.5"/><circle cx="1519.4" cy="895.7" r="6.5"/><circle cx="1476.5" cy="851" r="6.5"/><circle cx="1477.6" cy="903.3" r="6.5"/><circle cx="1520.5" cy="885" r="6.5"/><circle cx="1518.4" cy="897.6" r="6.5"/><circle cx="1512.7" cy="872" r="6.5"/><circle cx="1465" cy="863.4" r="6.5"/></g>
<path d="M1444.5 645.6V947.1" stroke="#000" stroke-width="4.2" fill="none"/>
<path d="M1433.5 936.7H1737.4" stroke="#000" stroke-width="4" fill="none"/>
<path d="M1433.5 853.6H1444.5" stroke="#000" stroke-width="4"/>
<path d="M1433.5 770.5H1444.5" stroke="#000" stroke-width="4"/>
<path d="M1433.5 687.4H1444.5" stroke="#000" stroke-width="4"/>
<path d="M1528.1 936.7V947.1" stroke="#000" stroke-width="4.2"/>
<path d="M1611.7 936.7V947.1" stroke="#000" stroke-width="4.2"/>
<path d="M1695.3 936.7V947.1" stroke="#000" stroke-width="4.2"/>
<text x="1421.2" y="945.5" font-size="24.6" text-anchor="end" fill="#000" stroke="#000" >-2</text>
<text x="1421.2" y="862.4" font-size="24.6" text-anchor="end" fill="#000" stroke="#000" >0</text>
<text x="1421.2" y="779.3" font-size="24.6" text-anchor="end" fill="#000" stroke="#000" >2</text>
<text x="1421.2" y="696.2" font-size="24.6" text-anchor="end" fill="#000" stroke="#000" >4</text>
<text x="1442.7" y="978.4" font-size="24.6" text-anchor="middle" fill="#000" stroke="#000" >-2</text>
<text x="1527.6" y="978.4" font-size="24.6" text-anchor="middle" fill="#000" stroke="#000" >0</text>
<text x="1611.2" y="978.4" font-size="24.6" text-anchor="middle" fill="#000" stroke="#000" >2</text>
<text x="1694.8" y="978.4" font-size="24.6" text-anchor="middle" fill="#000" stroke="#000" >4</text>
<text x="1560.7" y="616.8" font-size="35.2" text-anchor="start" fill="#000" stroke="#000" >Rise</text>
<text x="1482.1" y="680.6" font-size="28" stroke="#000"><tspan font-style="italic">r</tspan> = 0.31</text>
<text x="1578.5" y="679.6" font-size="41.5" text-anchor="start" fill="#000" stroke="#000" >*</text>
<path d="M1463.7 873.7L1725.4 792.2" stroke="#ff0000" stroke-width="4.3"/>
<text transform="translate(630.7 805.2) rotate(-90)" font-size="28.3" text-anchor="middle" stroke="#000">DSGC2 sEPSC</text>
<text transform="translate(665.6 804.8) rotate(-90)" font-size="28.2" text-anchor="middle" stroke="#000">(-mean/SD)</text>
<text x="1032.7" y="1022.3" font-size="28.35" text-anchor="start" fill="#000" stroke="#000" >DSGC1 sEPSC (-mean/SD)</text>
</svg>
</body></html>
